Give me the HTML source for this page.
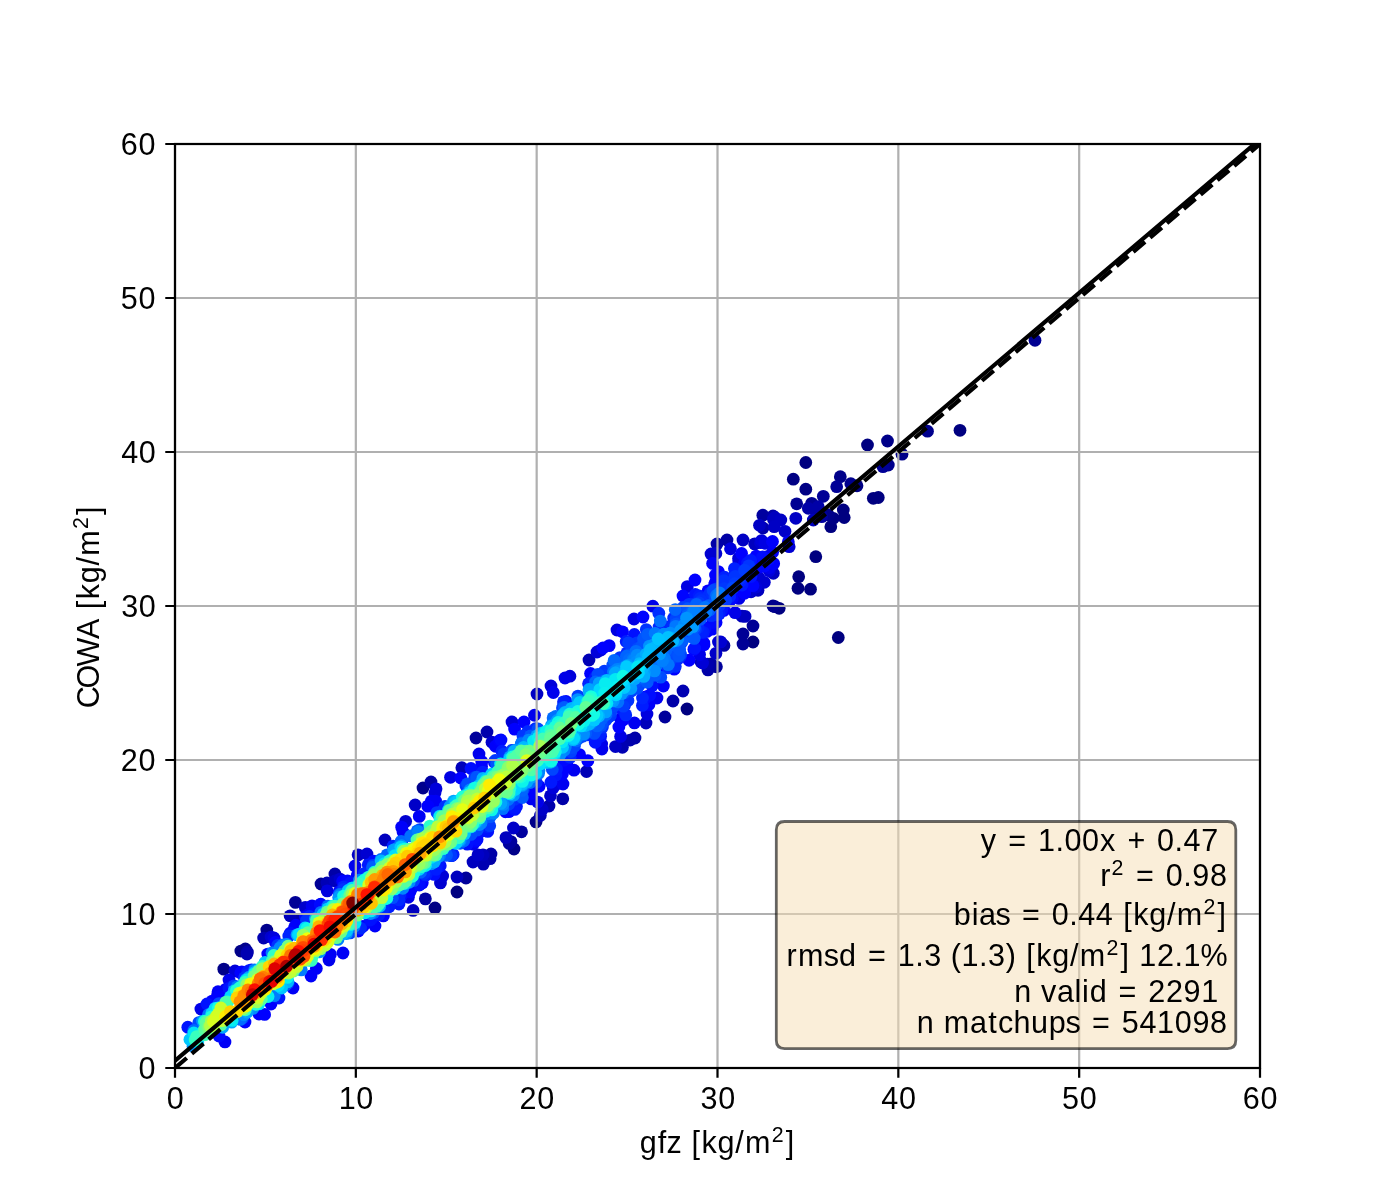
<!DOCTYPE html>
<html><head><meta charset="utf-8"><style>html,body{margin:0;padding:0;background:#fff;width:1400px;height:1200px;overflow:hidden}</style></head><body><svg width="1400" height="1200" viewBox="0 0 504 432" style="display:block">
<rect x="0" y="0" width="504" height="432" fill="#ffffff"/>
<g clip-path="url(#clipax)">
<circle cx="314.39" cy="179.39" r="2.3" fill="#000080"/><circle cx="316.19" cy="179.10" r="2.3" fill="#000080"/><circle cx="287.53" cy="207.61" r="2.3" fill="#000080"/><circle cx="293.69" cy="200.41" r="2.3" fill="#000080"/><circle cx="299.09" cy="189.61" r="2.3" fill="#000080"/><circle cx="303.91" cy="186.30" r="2.3" fill="#000080"/><circle cx="301.79" cy="229.50" r="2.3" fill="#000080"/><circle cx="345.60" cy="154.91" r="2.3" fill="#000080"/><circle cx="287.28" cy="211.79" r="2.3" fill="#000080"/><circle cx="291.78" cy="212.11" r="2.3" fill="#000080"/><circle cx="290.09" cy="166.50" r="2.3" fill="#000080"/><circle cx="312.30" cy="160.20" r="2.3" fill="#000080"/><circle cx="247.32" cy="255.24" r="2.3" fill="#000080"/><circle cx="303.59" cy="183.60" r="2.3" fill="#000080"/><circle cx="271.08" cy="231.12" r="2.3" fill="#000080"/><circle cx="280.51" cy="218.99" r="2.3" fill="#000080"/><circle cx="164.52" cy="321.12" r="2.3" fill="#000080"/><circle cx="299.99" cy="186.59" r="2.3" fill="#000084"/><circle cx="285.59" cy="172.51" r="2.3" fill="#000084"/><circle cx="290.09" cy="176.11" r="2.3" fill="#000084"/><circle cx="156.60" cy="326.88" r="2.3" fill="#000084"/><circle cx="279.00" cy="218.41" r="2.3" fill="#000084"/><circle cx="308.52" cy="174.89" r="2.3" fill="#000084"/><circle cx="302.51" cy="171.61" r="2.3" fill="#000089"/><circle cx="185.04" cy="305.64" r="2.3" fill="#000089"/><circle cx="86.71" cy="342.37" r="2.3" fill="#000089"/><circle cx="319.50" cy="158.76" r="2.3" fill="#000089"/><circle cx="192.97" cy="295.89" r="2.3" fill="#000089"/><circle cx="80.57" cy="348.89" r="2.3" fill="#000089"/><circle cx="298.19" cy="185.40" r="2.3" fill="#000089"/><circle cx="324.72" cy="163.51" r="2.3" fill="#000089"/><circle cx="319.79" cy="167.40" r="2.3" fill="#00008d"/><circle cx="88.34" cy="341.64" r="2.3" fill="#00008d"/><circle cx="278.28" cy="218.16" r="2.3" fill="#00008d"/><circle cx="333.90" cy="155.23" r="2.3" fill="#00008d"/><circle cx="96.05" cy="334.83" r="2.3" fill="#00008d"/><circle cx="152.28" cy="283.68" r="2.3" fill="#00008d"/><circle cx="306.29" cy="174.13" r="2.3" fill="#00008d"/><circle cx="372.60" cy="122.51" r="2.3" fill="#000092"/><circle cx="292.21" cy="181.19" r="2.3" fill="#000092"/><circle cx="286.81" cy="181.37" r="2.3" fill="#000092"/><circle cx="267.48" cy="231.84" r="2.3" fill="#000096"/><circle cx="317.88" cy="168.01" r="2.3" fill="#000096"/><circle cx="267.48" cy="228.24" r="2.3" fill="#000096"/><circle cx="106.34" cy="324.85" r="2.3" fill="#000096"/><circle cx="115.56" cy="318.24" r="2.3" fill="#000096"/><circle cx="301.21" cy="175.21" r="2.3" fill="#000096"/><circle cx="296.39" cy="178.67" r="2.3" fill="#000096"/><circle cx="271.08" cy="225.36" r="2.3" fill="#000096"/><circle cx="257.91" cy="240.04" r="2.3" fill="#00009b"/><circle cx="183.95" cy="302.96" r="2.3" fill="#00009b"/><circle cx="167.75" cy="316.08" r="2.3" fill="#00009b"/><circle cx="239.40" cy="258.12" r="2.3" fill="#00009b"/><circle cx="171.36" cy="265.68" r="2.3" fill="#00009b"/><circle cx="187.75" cy="299.44" r="2.3" fill="#00009f"/><circle cx="183.31" cy="303.62" r="2.3" fill="#00009f"/><circle cx="295.81" cy="186.01" r="2.3" fill="#00009f"/><circle cx="274.62" cy="185.46" r="2.3" fill="#00009f"/><circle cx="153.13" cy="323.59" r="2.3" fill="#0000a4"/><circle cx="260.63" cy="232.36" r="2.3" fill="#0000a4"/><circle cx="155.16" cy="281.52" r="2.3" fill="#0000a4"/><circle cx="293.40" cy="183.60" r="2.3" fill="#0000a4"/><circle cx="261.72" cy="194.40" r="2.3" fill="#0000a4"/><circle cx="255.96" cy="239.04" r="2.3" fill="#0000a4"/><circle cx="258.12" cy="195.84" r="2.3" fill="#0000a8"/><circle cx="254.87" cy="241.16" r="2.3" fill="#0000a8"/><circle cx="242.28" cy="252.36" r="2.3" fill="#0000a8"/><circle cx="89.05" cy="342.70" r="2.3" fill="#0000a8"/><circle cx="228.60" cy="265.68" r="2.3" fill="#0000a8"/><circle cx="176.76" cy="307.44" r="2.3" fill="#0000a8"/><circle cx="202.60" cy="287.58" r="2.3" fill="#0000a8"/><circle cx="278.28" cy="185.76" r="2.3" fill="#0000a8"/><circle cx="294.59" cy="182.41" r="2.3" fill="#0000a8"/><circle cx="120.57" cy="314.62" r="2.3" fill="#0000a8"/><circle cx="290.99" cy="182.99" r="2.3" fill="#0000a8"/><circle cx="176.44" cy="309.12" r="2.3" fill="#0000a8"/><circle cx="175.32" cy="263.52" r="2.3" fill="#0000ad"/><circle cx="197.64" cy="290.16" r="2.3" fill="#0000ad"/><circle cx="274.68" cy="190.08" r="2.3" fill="#0000ad"/><circle cx="106.92" cy="331.20" r="2.3" fill="#0000ad"/><circle cx="226.84" cy="266.43" r="2.3" fill="#0000ad"/><circle cx="254.75" cy="239.08" r="2.3" fill="#0000ad"/><circle cx="94.91" cy="337.69" r="2.3" fill="#0000b2"/><circle cx="88.92" cy="343.44" r="2.3" fill="#0000b2"/><circle cx="174.00" cy="311.08" r="2.3" fill="#0000b2"/><circle cx="245.88" cy="248.76" r="2.3" fill="#0000b2"/><circle cx="224.06" cy="269.04" r="2.3" fill="#0000b2"/><circle cx="194.52" cy="293.61" r="2.3" fill="#0000b6"/><circle cx="252.36" cy="238.32" r="2.3" fill="#0000b6"/><circle cx="117.72" cy="317.88" r="2.3" fill="#0000b6"/><circle cx="211.15" cy="277.75" r="2.3" fill="#0000b6"/><circle cx="212.04" cy="237.60" r="2.3" fill="#0000b6"/><circle cx="104.44" cy="329.68" r="2.3" fill="#0000bb"/><circle cx="267.12" cy="221.83" r="2.3" fill="#0000bb"/><circle cx="173.88" cy="307.80" r="2.3" fill="#0000bb"/><circle cx="232.56" cy="260.28" r="2.3" fill="#0000bb"/><circle cx="292.79" cy="187.20" r="2.3" fill="#0000bb"/><circle cx="166.26" cy="276.39" r="2.3" fill="#0000bb"/><circle cx="170.28" cy="310.32" r="2.3" fill="#0000bf"/><circle cx="120.60" cy="317.16" r="2.3" fill="#0000bf"/><circle cx="278.44" cy="186.91" r="2.3" fill="#0000bf"/><circle cx="278.39" cy="206.39" r="2.3" fill="#0000bf"/><circle cx="164.52" cy="315.72" r="2.3" fill="#0000bf"/><circle cx="279.00" cy="186.30" r="2.3" fill="#0000bf"/><circle cx="148.72" cy="327.77" r="2.3" fill="#0000bf"/><circle cx="268.23" cy="221.90" r="2.3" fill="#0000bf"/><circle cx="271.68" cy="195.80" r="2.3" fill="#0000bf"/><circle cx="138.60" cy="302.40" r="2.3" fill="#0000bf"/><circle cx="182.14" cy="301.55" r="2.3" fill="#0000bf"/><circle cx="272.89" cy="212.52" r="2.3" fill="#0000bf"/><circle cx="267.48" cy="194.40" r="2.3" fill="#0000c4"/><circle cx="193.32" cy="249.84" r="2.3" fill="#0000c4"/><circle cx="128.91" cy="307.75" r="2.3" fill="#0000c4"/><circle cx="286.49" cy="186.59" r="2.3" fill="#0000c4"/><circle cx="281.09" cy="187.20" r="2.3" fill="#0000c4"/><circle cx="273.42" cy="189.11" r="2.3" fill="#0000c4"/><circle cx="278.71" cy="189.61" r="2.3" fill="#0000c4"/><circle cx="221.57" cy="268.77" r="2.3" fill="#0000c4"/><circle cx="149.46" cy="289.79" r="2.3" fill="#0000c8"/><circle cx="195.18" cy="291.37" r="2.3" fill="#0000c8"/><circle cx="172.08" cy="307.75" r="2.3" fill="#0000c8"/><circle cx="184.84" cy="298.08" r="2.3" fill="#0000c8"/><circle cx="282.60" cy="191.27" r="2.3" fill="#0000c8"/><circle cx="257.74" cy="235.21" r="2.3" fill="#0000c8"/><circle cx="198.18" cy="286.48" r="2.3" fill="#0000c8"/><circle cx="109.89" cy="326.65" r="2.3" fill="#0000cd"/><circle cx="177.11" cy="267.19" r="2.3" fill="#0000cd"/><circle cx="270.38" cy="213.03" r="2.3" fill="#0000cd"/><circle cx="122.43" cy="316.48" r="2.3" fill="#0000cd"/><circle cx="258.64" cy="231.09" r="2.3" fill="#0000d1"/><circle cx="273.26" cy="208.06" r="2.3" fill="#0000d1"/><circle cx="97.59" cy="337.34" r="2.3" fill="#0000d1"/><circle cx="257.72" cy="199.24" r="2.3" fill="#0000d1"/><circle cx="255.96" cy="199.44" r="2.3" fill="#0000d1"/><circle cx="146.03" cy="295.69" r="2.3" fill="#0000d1"/><circle cx="132.12" cy="307.44" r="2.3" fill="#0000d1"/><circle cx="259.49" cy="231.10" r="2.3" fill="#0000d1"/><circle cx="158.57" cy="317.86" r="2.3" fill="#0000d1"/><circle cx="273.78" cy="195.38" r="2.3" fill="#0000d1"/><circle cx="284.11" cy="196.81" r="2.3" fill="#0000d1"/><circle cx="275.16" cy="209.63" r="2.3" fill="#0000d1"/><circle cx="184.32" cy="259.92" r="2.3" fill="#0000d6"/><circle cx="252.92" cy="238.68" r="2.3" fill="#0000d6"/><circle cx="266.87" cy="213.25" r="2.3" fill="#0000d6"/><circle cx="265.88" cy="201.02" r="2.3" fill="#0000d6"/><circle cx="159.36" cy="315.35" r="2.3" fill="#0000d6"/><circle cx="199.16" cy="283.60" r="2.3" fill="#0000da"/><circle cx="198.36" cy="246.96" r="2.3" fill="#0000da"/><circle cx="156.97" cy="283.99" r="2.3" fill="#0000da"/><circle cx="214.92" cy="234.72" r="2.3" fill="#0000da"/><circle cx="272.11" cy="211.31" r="2.3" fill="#0000da"/><circle cx="84.60" cy="349.56" r="2.3" fill="#0000da"/><circle cx="205.17" cy="243.43" r="2.3" fill="#0000da"/><circle cx="274.16" cy="194.59" r="2.3" fill="#0000da"/><circle cx="156.60" cy="285.48" r="2.3" fill="#0000da"/><circle cx="216.31" cy="234.03" r="2.3" fill="#0000da"/><circle cx="276.93" cy="205.47" r="2.3" fill="#0000da"/><circle cx="276.23" cy="200.38" r="2.3" fill="#0000df"/><circle cx="232.92" cy="257.04" r="2.3" fill="#0000df"/><circle cx="262.98" cy="197.55" r="2.3" fill="#0000df"/><circle cx="266.00" cy="202.31" r="2.3" fill="#0000df"/><circle cx="200.50" cy="282.14" r="2.3" fill="#0000df"/><circle cx="222.12" cy="226.80" r="2.3" fill="#0000df"/><circle cx="98.64" cy="337.68" r="2.3" fill="#0000df"/><circle cx="117.79" cy="320.72" r="2.3" fill="#0000df"/><circle cx="228.24" cy="222.84" r="2.3" fill="#0000e3"/><circle cx="162.19" cy="279.84" r="2.3" fill="#0000e3"/><circle cx="275.39" cy="195.58" r="2.3" fill="#0000e3"/><circle cx="223.41" cy="265.13" r="2.3" fill="#0000e3"/><circle cx="247.42" cy="211.19" r="2.3" fill="#0000e3"/><circle cx="235.03" cy="218.22" r="2.3" fill="#0000e8"/><circle cx="72.32" cy="363.26" r="2.3" fill="#0000e8"/><circle cx="193.55" cy="288.74" r="2.3" fill="#0000e8"/><circle cx="266.02" cy="215.43" r="2.3" fill="#0000e8"/><circle cx="264.63" cy="220.57" r="2.3" fill="#0000e8"/><circle cx="147.02" cy="323.02" r="2.3" fill="#0000e8"/><circle cx="203.40" cy="244.08" r="2.3" fill="#0000e8"/><circle cx="251.86" cy="235.65" r="2.3" fill="#0000e8"/><circle cx="216.58" cy="267.85" r="2.3" fill="#0000e8"/><circle cx="216.69" cy="269.67" r="2.3" fill="#0000ed"/><circle cx="170.30" cy="303.91" r="2.3" fill="#0000ed"/><circle cx="118.44" cy="345.60" r="2.3" fill="#0000ed"/><circle cx="257.47" cy="209.81" r="2.3" fill="#0000ed"/><circle cx="192.41" cy="257.49" r="2.3" fill="#0000ed"/><circle cx="78.25" cy="358.47" r="2.3" fill="#0000ed"/><circle cx="172.44" cy="271.44" r="2.3" fill="#0000ed"/><circle cx="276.89" cy="204.38" r="2.3" fill="#0000ed"/><circle cx="199.19" cy="249.30" r="2.3" fill="#0000ed"/><circle cx="127.80" cy="311.76" r="2.3" fill="#0000ed"/><circle cx="82.44" cy="352.80" r="2.3" fill="#0000ed"/><circle cx="236.52" cy="251.28" r="2.3" fill="#0000f1"/><circle cx="228.39" cy="260.27" r="2.3" fill="#0000f1"/><circle cx="283.79" cy="195.01" r="2.3" fill="#0000f1"/><circle cx="81.26" cy="356.17" r="2.3" fill="#0000f1"/><circle cx="112.34" cy="326.09" r="2.3" fill="#0000f1"/><circle cx="202.68" cy="282.24" r="2.3" fill="#0000f1"/><circle cx="191.23" cy="287.61" r="2.3" fill="#0000f1"/><circle cx="206.63" cy="277.28" r="2.3" fill="#0000f1"/><circle cx="155.34" cy="288.41" r="2.3" fill="#0000f6"/><circle cx="156.81" cy="288.40" r="2.3" fill="#0000f6"/><circle cx="105.48" cy="355.68" r="2.3" fill="#0000f6"/><circle cx="80.99" cy="375.09" r="2.3" fill="#0000f6"/><circle cx="148.17" cy="319.74" r="2.3" fill="#0000f6"/><circle cx="150.93" cy="293.90" r="2.3" fill="#0000f6"/><circle cx="278.14" cy="198.79" r="2.3" fill="#0000f6"/><circle cx="266.86" cy="208.27" r="2.3" fill="#0000f6"/><circle cx="123.48" cy="343.08" r="2.3" fill="#0000f6"/><circle cx="112.42" cy="329.16" r="2.3" fill="#0000f6"/><circle cx="78.48" cy="357.01" r="2.3" fill="#0000f6"/><circle cx="223.41" cy="258.87" r="2.3" fill="#0000f6"/><circle cx="105.99" cy="334.01" r="2.3" fill="#0000f6"/><circle cx="268.91" cy="211.26" r="2.3" fill="#0000f6"/><circle cx="118.94" cy="343.56" r="2.3" fill="#0000f6"/><circle cx="110.99" cy="329.30" r="2.3" fill="#0000f6"/><circle cx="173.44" cy="274.18" r="2.3" fill="#0000fa"/><circle cx="135.00" cy="333.36" r="2.3" fill="#0000fa"/><circle cx="144.61" cy="297.77" r="2.3" fill="#0000fa"/><circle cx="273.70" cy="204.05" r="2.3" fill="#0000fa"/><circle cx="256.53" cy="202.85" r="2.3" fill="#0000fa"/><circle cx="238.82" cy="246.98" r="2.3" fill="#0000fa"/><circle cx="233.63" cy="253.64" r="2.3" fill="#0000fa"/><circle cx="106.52" cy="333.06" r="2.3" fill="#0000fa"/><circle cx="278.53" cy="202.91" r="2.3" fill="#0000fa"/><circle cx="111.96" cy="351.36" r="2.3" fill="#0000fa"/><circle cx="115.49" cy="325.50" r="2.3" fill="#0000fa"/><circle cx="145.08" cy="299.52" r="2.3" fill="#0000fa"/><circle cx="93.24" cy="365.04" r="2.3" fill="#0000fa"/><circle cx="178.39" cy="268.65" r="2.3" fill="#0000fa"/><circle cx="278.10" cy="194.94" r="2.3" fill="#0000fa"/><circle cx="113.89" cy="348.65" r="2.3" fill="#0000fa"/><circle cx="219.30" cy="232.43" r="2.3" fill="#0000fa"/><circle cx="97.56" cy="361.44" r="2.3" fill="#0000ff"/><circle cx="211.61" cy="273.87" r="2.3" fill="#0000ff"/><circle cx="87.06" cy="349.91" r="2.3" fill="#0000ff"/><circle cx="242.72" cy="240.90" r="2.3" fill="#0000ff"/><circle cx="185.24" cy="262.48" r="2.3" fill="#0000ff"/><circle cx="138.01" cy="329.73" r="2.3" fill="#0000ff"/><circle cx="266.97" cy="199.25" r="2.3" fill="#0000ff"/><circle cx="259.86" cy="208.39" r="2.3" fill="#0000ff"/><circle cx="248.39" cy="216.05" r="2.3" fill="#0000ff"/><circle cx="253.66" cy="226.02" r="2.3" fill="#0000ff"/><circle cx="99.18" cy="339.25" r="2.3" fill="#0000ff"/><circle cx="250.20" cy="208.80" r="2.3" fill="#0000ff"/><circle cx="202.48" cy="278.65" r="2.3" fill="#0000ff"/><circle cx="173.36" cy="275.84" r="2.3" fill="#0000ff"/><circle cx="275.36" cy="201.32" r="2.3" fill="#0000ff"/><circle cx="179.87" cy="266.55" r="2.3" fill="#0000ff"/><circle cx="248.06" cy="237.69" r="2.3" fill="#0000ff"/><circle cx="266.54" cy="207.47" r="2.3" fill="#0000ff"/><circle cx="257.39" cy="223.90" r="2.3" fill="#0000ff"/><circle cx="142.75" cy="324.22" r="2.3" fill="#0000ff"/><circle cx="232.40" cy="250.86" r="2.3" fill="#0000ff"/><circle cx="222.79" cy="261.73" r="2.3" fill="#0000ff"/><circle cx="154.02" cy="290.21" r="2.3" fill="#0000ff"/><circle cx="137.75" cy="328.29" r="2.3" fill="#0000ff"/><circle cx="146.47" cy="320.08" r="2.3" fill="#0000ff"/><circle cx="95.26" cy="365.21" r="2.3" fill="#0000ff"/><circle cx="96.39" cy="343.46" r="2.3" fill="#0000ff"/><circle cx="147.59" cy="321.08" r="2.3" fill="#0000ff"/><circle cx="165.89" cy="280.11" r="2.3" fill="#0000ff"/><circle cx="130.69" cy="333.46" r="2.3" fill="#0000ff"/><circle cx="122.12" cy="320.96" r="2.3" fill="#0000ff"/><circle cx="256.41" cy="226.48" r="2.3" fill="#0000ff"/><circle cx="78.94" cy="358.77" r="2.3" fill="#0000ff"/><circle cx="253.46" cy="232.12" r="2.3" fill="#0000ff"/><circle cx="257.30" cy="210.36" r="2.3" fill="#0000ff"/><circle cx="268.18" cy="210.52" r="2.3" fill="#0000ff"/><circle cx="191.10" cy="285.66" r="2.3" fill="#0000ff"/><circle cx="257.14" cy="211.68" r="2.3" fill="#0000ff"/><circle cx="258.60" cy="205.76" r="2.3" fill="#0000ff"/><circle cx="128.62" cy="315.13" r="2.3" fill="#0000ff"/><circle cx="123.38" cy="317.24" r="2.3" fill="#0000ff"/><circle cx="271.77" cy="202.29" r="2.3" fill="#0000ff"/><circle cx="212.59" cy="242.46" r="2.3" fill="#0000ff"/><circle cx="272.24" cy="200.17" r="2.3" fill="#0000ff"/><circle cx="129.03" cy="335.18" r="2.3" fill="#0000ff"/><circle cx="224.31" cy="259.22" r="2.3" fill="#0000ff"/><circle cx="264.65" cy="212.66" r="2.3" fill="#0000ff"/><circle cx="188.64" cy="259.92" r="2.3" fill="#0000ff"/><circle cx="86.69" cy="350.23" r="2.3" fill="#0000ff"/><circle cx="260.60" cy="219.73" r="2.3" fill="#0000ff"/><circle cx="204.12" cy="275.53" r="2.3" fill="#0000ff"/><circle cx="257.80" cy="224.12" r="2.3" fill="#0000ff"/><circle cx="208.64" cy="271.63" r="2.3" fill="#0000ff"/><circle cx="254.52" cy="227.32" r="2.3" fill="#0000ff"/><circle cx="152.03" cy="317.83" r="2.3" fill="#0000ff"/><circle cx="253.38" cy="231.46" r="2.3" fill="#0000ff"/><circle cx="204.32" cy="271.19" r="2.3" fill="#0000ff"/><circle cx="256.65" cy="223.14" r="2.3" fill="#0000ff"/><circle cx="267.93" cy="202.97" r="2.3" fill="#0000ff"/><circle cx="170.38" cy="302.90" r="2.3" fill="#0000ff"/><circle cx="254.88" cy="212.69" r="2.3" fill="#0000ff"/><circle cx="268.05" cy="213.59" r="2.3" fill="#0000ff"/><circle cx="257.57" cy="207.00" r="2.3" fill="#0000ff"/><circle cx="243.79" cy="234.44" r="2.3" fill="#0000ff"/><circle cx="217.08" cy="233.28" r="2.3" fill="#0000ff"/><circle cx="238.67" cy="225.30" r="2.3" fill="#0000ff"/><circle cx="177.97" cy="274.37" r="2.3" fill="#0000ff"/><circle cx="265.24" cy="206.39" r="2.3" fill="#0000ff"/><circle cx="257.30" cy="223.97" r="2.3" fill="#0000ff"/><circle cx="268.74" cy="209.43" r="2.3" fill="#0000ff"/><circle cx="76.38" cy="360.39" r="2.3" fill="#0000ff"/><circle cx="245.91" cy="220.15" r="2.3" fill="#0000ff"/><circle cx="224.11" cy="227.45" r="2.3" fill="#0000ff"/><circle cx="194.08" cy="283.08" r="2.3" fill="#0000ff"/><circle cx="263.61" cy="215.47" r="2.3" fill="#0004ff"/><circle cx="125.13" cy="317.15" r="2.3" fill="#0004ff"/><circle cx="267.12" cy="206.81" r="2.3" fill="#0004ff"/><circle cx="271.06" cy="210.82" r="2.3" fill="#0004ff"/><circle cx="275.14" cy="203.73" r="2.3" fill="#0004ff"/><circle cx="262.19" cy="211.20" r="2.3" fill="#0004ff"/><circle cx="139.02" cy="326.79" r="2.3" fill="#0004ff"/><circle cx="249.80" cy="233.77" r="2.3" fill="#0004ff"/><circle cx="162.61" cy="308.05" r="2.3" fill="#0004ff"/><circle cx="88.20" cy="367.92" r="2.3" fill="#0004ff"/><circle cx="171.36" cy="302.78" r="2.3" fill="#0004ff"/><circle cx="183.17" cy="292.20" r="2.3" fill="#0004ff"/><circle cx="181.99" cy="292.23" r="2.3" fill="#0004ff"/><circle cx="231.48" cy="222.12" r="2.3" fill="#0004ff"/><circle cx="238.22" cy="240.58" r="2.3" fill="#0004ff"/><circle cx="245.88" cy="214.56" r="2.3" fill="#0004ff"/><circle cx="203.78" cy="252.52" r="2.3" fill="#0008ff"/><circle cx="144.46" cy="322.43" r="2.3" fill="#0008ff"/><circle cx="256.55" cy="224.08" r="2.3" fill="#0008ff"/><circle cx="262.68" cy="216.38" r="2.3" fill="#0008ff"/><circle cx="180.36" cy="266.40" r="2.3" fill="#0008ff"/><circle cx="78.84" cy="372.96" r="2.3" fill="#0008ff"/><circle cx="104.47" cy="335.97" r="2.3" fill="#0008ff"/><circle cx="109.97" cy="330.15" r="2.3" fill="#0008ff"/><circle cx="202.94" cy="273.70" r="2.3" fill="#0008ff"/><circle cx="115.29" cy="325.67" r="2.3" fill="#0008ff"/><circle cx="134.56" cy="309.98" r="2.3" fill="#0008ff"/><circle cx="242.89" cy="238.92" r="2.3" fill="#000cff"/><circle cx="169.55" cy="276.63" r="2.3" fill="#000cff"/><circle cx="253.83" cy="226.23" r="2.3" fill="#000cff"/><circle cx="150.98" cy="318.62" r="2.3" fill="#000cff"/><circle cx="183.52" cy="289.86" r="2.3" fill="#000cff"/><circle cx="171.76" cy="302.24" r="2.3" fill="#000cff"/><circle cx="258.61" cy="217.16" r="2.3" fill="#000cff"/><circle cx="274.55" cy="200.50" r="2.3" fill="#000cff"/><circle cx="233.89" cy="250.27" r="2.3" fill="#000cff"/><circle cx="232.31" cy="251.18" r="2.3" fill="#000cff"/><circle cx="264.45" cy="208.85" r="2.3" fill="#000cff"/><circle cx="276.78" cy="201.25" r="2.3" fill="#000cff"/><circle cx="156.30" cy="314.81" r="2.3" fill="#000cff"/><circle cx="249.87" cy="229.13" r="2.3" fill="#000cff"/><circle cx="122.48" cy="321.07" r="2.3" fill="#0010ff"/><circle cx="76.12" cy="362.33" r="2.3" fill="#0010ff"/><circle cx="82.42" cy="355.81" r="2.3" fill="#0010ff"/><circle cx="228.37" cy="228.41" r="2.3" fill="#0010ff"/><circle cx="154.03" cy="314.08" r="2.3" fill="#0010ff"/><circle cx="270.04" cy="206.42" r="2.3" fill="#0010ff"/><circle cx="133.81" cy="330.63" r="2.3" fill="#0010ff"/><circle cx="249.56" cy="221.09" r="2.3" fill="#0010ff"/><circle cx="216.23" cy="265.08" r="2.3" fill="#0010ff"/><circle cx="173.52" cy="299.18" r="2.3" fill="#0010ff"/><circle cx="158.50" cy="311.71" r="2.3" fill="#0010ff"/><circle cx="74.52" cy="361.44" r="2.3" fill="#0010ff"/><circle cx="269.77" cy="205.83" r="2.3" fill="#0010ff"/><circle cx="175.59" cy="299.33" r="2.3" fill="#0010ff"/><circle cx="133.25" cy="331.21" r="2.3" fill="#0010ff"/><circle cx="126.13" cy="317.85" r="2.3" fill="#0010ff"/><circle cx="248.48" cy="219.84" r="2.3" fill="#0010ff"/><circle cx="249.99" cy="227.91" r="2.3" fill="#0010ff"/><circle cx="168.21" cy="303.88" r="2.3" fill="#0010ff"/><circle cx="262.95" cy="209.37" r="2.3" fill="#0010ff"/><circle cx="211.89" cy="246.12" r="2.3" fill="#0010ff"/><circle cx="257.15" cy="214.06" r="2.3" fill="#0010ff"/><circle cx="270.30" cy="204.61" r="2.3" fill="#0010ff"/><circle cx="234.77" cy="246.83" r="2.3" fill="#0010ff"/><circle cx="224.79" cy="254.04" r="2.3" fill="#0014ff"/><circle cx="259.82" cy="219.56" r="2.3" fill="#0014ff"/><circle cx="250.06" cy="233.37" r="2.3" fill="#0014ff"/><circle cx="269.11" cy="202.65" r="2.3" fill="#0014ff"/><circle cx="268.38" cy="205.78" r="2.3" fill="#0014ff"/><circle cx="200.11" cy="279.00" r="2.3" fill="#0014ff"/><circle cx="185.34" cy="291.38" r="2.3" fill="#0014ff"/><circle cx="143.64" cy="325.44" r="2.3" fill="#0014ff"/><circle cx="264.34" cy="207.70" r="2.3" fill="#0014ff"/><circle cx="214.30" cy="267.21" r="2.3" fill="#0014ff"/><circle cx="100.44" cy="359.28" r="2.3" fill="#0014ff"/><circle cx="250.30" cy="213.99" r="2.3" fill="#0014ff"/><circle cx="67.61" cy="369.81" r="2.3" fill="#0014ff"/><circle cx="260.10" cy="218.55" r="2.3" fill="#0014ff"/><circle cx="270.37" cy="207.55" r="2.3" fill="#0014ff"/><circle cx="185.93" cy="290.30" r="2.3" fill="#0014ff"/><circle cx="214.27" cy="243.91" r="2.3" fill="#0018ff"/><circle cx="260.02" cy="213.98" r="2.3" fill="#0018ff"/><circle cx="223.48" cy="255.01" r="2.3" fill="#0018ff"/><circle cx="267.15" cy="210.60" r="2.3" fill="#0018ff"/><circle cx="248.62" cy="217.65" r="2.3" fill="#0018ff"/><circle cx="157.55" cy="311.06" r="2.3" fill="#0018ff"/><circle cx="90.51" cy="349.14" r="2.3" fill="#0018ff"/><circle cx="185.16" cy="290.49" r="2.3" fill="#0018ff"/><circle cx="270.24" cy="201.70" r="2.3" fill="#0018ff"/><circle cx="89.63" cy="349.43" r="2.3" fill="#0018ff"/><circle cx="198.34" cy="281.61" r="2.3" fill="#0018ff"/><circle cx="221.50" cy="240.58" r="2.3" fill="#0018ff"/><circle cx="136.41" cy="329.26" r="2.3" fill="#0018ff"/><circle cx="111.17" cy="330.24" r="2.3" fill="#0018ff"/><circle cx="264.58" cy="206.60" r="2.3" fill="#0018ff"/><circle cx="132.56" cy="311.32" r="2.3" fill="#0018ff"/><circle cx="89.13" cy="349.93" r="2.3" fill="#0018ff"/><circle cx="200.35" cy="276.85" r="2.3" fill="#0018ff"/><circle cx="248.17" cy="217.95" r="2.3" fill="#0018ff"/><circle cx="243.43" cy="236.73" r="2.3" fill="#001cff"/><circle cx="211.76" cy="264.58" r="2.3" fill="#001cff"/><circle cx="269.74" cy="203.53" r="2.3" fill="#001cff"/><circle cx="173.74" cy="277.93" r="2.3" fill="#001cff"/><circle cx="236.92" cy="239.01" r="2.3" fill="#001cff"/><circle cx="140.08" cy="326.44" r="2.3" fill="#001cff"/><circle cx="231.26" cy="253.95" r="2.3" fill="#001cff"/><circle cx="156.99" cy="312.97" r="2.3" fill="#001cff"/><circle cx="251.67" cy="214.53" r="2.3" fill="#001cff"/><circle cx="203.35" cy="252.93" r="2.3" fill="#001cff"/><circle cx="265.02" cy="206.27" r="2.3" fill="#001cff"/><circle cx="225.42" cy="230.93" r="2.3" fill="#001cff"/><circle cx="253.22" cy="227.65" r="2.3" fill="#001cff"/><circle cx="153.40" cy="315.00" r="2.3" fill="#001cff"/><circle cx="180.73" cy="270.45" r="2.3" fill="#001cff"/><circle cx="175.69" cy="297.68" r="2.3" fill="#001cff"/><circle cx="265.43" cy="206.05" r="2.3" fill="#001cff"/><circle cx="258.91" cy="220.99" r="2.3" fill="#001cff"/><circle cx="143.92" cy="322.20" r="2.3" fill="#0020ff"/><circle cx="202.86" cy="252.66" r="2.3" fill="#0020ff"/><circle cx="111.38" cy="329.94" r="2.3" fill="#0020ff"/><circle cx="228.52" cy="246.41" r="2.3" fill="#0020ff"/><circle cx="124.44" cy="319.73" r="2.3" fill="#0020ff"/><circle cx="153.00" cy="314.99" r="2.3" fill="#0020ff"/><circle cx="216.05" cy="264.18" r="2.3" fill="#0020ff"/><circle cx="266.61" cy="209.29" r="2.3" fill="#0020ff"/><circle cx="123.71" cy="319.27" r="2.3" fill="#0020ff"/><circle cx="264.40" cy="204.70" r="2.3" fill="#0020ff"/><circle cx="260.67" cy="213.40" r="2.3" fill="#0020ff"/><circle cx="141.53" cy="304.57" r="2.3" fill="#0020ff"/><circle cx="260.85" cy="207.79" r="2.3" fill="#0020ff"/><circle cx="262.70" cy="214.70" r="2.3" fill="#0020ff"/><circle cx="218.13" cy="258.72" r="2.3" fill="#0020ff"/><circle cx="163.14" cy="307.63" r="2.3" fill="#0020ff"/><circle cx="252.50" cy="227.60" r="2.3" fill="#0020ff"/><circle cx="235.34" cy="228.57" r="2.3" fill="#0020ff"/><circle cx="214.32" cy="264.11" r="2.3" fill="#0020ff"/><circle cx="231.30" cy="251.31" r="2.3" fill="#0024ff"/><circle cx="205.23" cy="272.65" r="2.3" fill="#0024ff"/><circle cx="225.71" cy="235.03" r="2.3" fill="#0024ff"/><circle cx="235.35" cy="234.06" r="2.3" fill="#0024ff"/><circle cx="244.93" cy="236.30" r="2.3" fill="#0024ff"/><circle cx="89.14" cy="350.94" r="2.3" fill="#0024ff"/><circle cx="185.72" cy="287.17" r="2.3" fill="#0024ff"/><circle cx="103.96" cy="336.94" r="2.3" fill="#0024ff"/><circle cx="254.25" cy="217.54" r="2.3" fill="#0024ff"/><circle cx="216.91" cy="243.20" r="2.3" fill="#0024ff"/><circle cx="131.10" cy="314.47" r="2.3" fill="#0024ff"/><circle cx="212.17" cy="246.14" r="2.3" fill="#0024ff"/><circle cx="193.04" cy="281.63" r="2.3" fill="#0024ff"/><circle cx="250.44" cy="217.59" r="2.3" fill="#0024ff"/><circle cx="244.48" cy="222.51" r="2.3" fill="#0024ff"/><circle cx="255.66" cy="213.70" r="2.3" fill="#0024ff"/><circle cx="252.41" cy="215.65" r="2.3" fill="#0024ff"/><circle cx="251.31" cy="225.94" r="2.3" fill="#0028ff"/><circle cx="256.61" cy="219.60" r="2.3" fill="#0028ff"/><circle cx="190.02" cy="263.32" r="2.3" fill="#0028ff"/><circle cx="225.28" cy="257.36" r="2.3" fill="#0028ff"/><circle cx="237.26" cy="225.69" r="2.3" fill="#0028ff"/><circle cx="252.04" cy="215.43" r="2.3" fill="#0028ff"/><circle cx="138.00" cy="327.20" r="2.3" fill="#0028ff"/><circle cx="240.95" cy="225.59" r="2.3" fill="#0028ff"/><circle cx="249.09" cy="218.91" r="2.3" fill="#0028ff"/><circle cx="242.53" cy="222.53" r="2.3" fill="#0028ff"/><circle cx="192.75" cy="262.33" r="2.3" fill="#0028ff"/><circle cx="255.79" cy="213.36" r="2.3" fill="#0028ff"/><circle cx="143.67" cy="323.96" r="2.3" fill="#0028ff"/><circle cx="129.79" cy="334.12" r="2.3" fill="#0028ff"/><circle cx="234.55" cy="243.38" r="2.3" fill="#0028ff"/><circle cx="243.10" cy="239.92" r="2.3" fill="#002cff"/><circle cx="255.31" cy="214.24" r="2.3" fill="#002cff"/><circle cx="256.07" cy="221.63" r="2.3" fill="#002cff"/><circle cx="247.91" cy="217.85" r="2.3" fill="#002cff"/><circle cx="258.17" cy="221.23" r="2.3" fill="#002cff"/><circle cx="242.08" cy="225.64" r="2.3" fill="#002cff"/><circle cx="237.18" cy="220.74" r="2.3" fill="#002cff"/><circle cx="244.02" cy="237.23" r="2.3" fill="#002cff"/><circle cx="221.20" cy="238.54" r="2.3" fill="#002cff"/><circle cx="264.58" cy="210.16" r="2.3" fill="#0030ff"/><circle cx="266.26" cy="208.21" r="2.3" fill="#0030ff"/><circle cx="110.34" cy="331.32" r="2.3" fill="#0030ff"/><circle cx="88.02" cy="351.97" r="2.3" fill="#0030ff"/><circle cx="212.34" cy="262.45" r="2.3" fill="#0030ff"/><circle cx="170.97" cy="279.82" r="2.3" fill="#0030ff"/><circle cx="185.28" cy="287.75" r="2.3" fill="#0030ff"/><circle cx="250.05" cy="217.36" r="2.3" fill="#0030ff"/><circle cx="260.55" cy="208.99" r="2.3" fill="#0030ff"/><circle cx="267.96" cy="206.71" r="2.3" fill="#0030ff"/><circle cx="252.50" cy="216.25" r="2.3" fill="#0030ff"/><circle cx="258.97" cy="217.91" r="2.3" fill="#0030ff"/><circle cx="248.80" cy="229.14" r="2.3" fill="#0030ff"/><circle cx="259.95" cy="210.53" r="2.3" fill="#0030ff"/><circle cx="160.19" cy="290.32" r="2.3" fill="#0030ff"/><circle cx="152.62" cy="314.47" r="2.3" fill="#0030ff"/><circle cx="256.38" cy="213.81" r="2.3" fill="#0030ff"/><circle cx="216.88" cy="261.76" r="2.3" fill="#0030ff"/><circle cx="244.14" cy="223.35" r="2.3" fill="#0030ff"/><circle cx="245.35" cy="231.29" r="2.3" fill="#0030ff"/><circle cx="99.99" cy="340.31" r="2.3" fill="#0030ff"/><circle cx="123.68" cy="320.20" r="2.3" fill="#0030ff"/><circle cx="264.70" cy="207.47" r="2.3" fill="#0034ff"/><circle cx="240.51" cy="240.46" r="2.3" fill="#0034ff"/><circle cx="244.37" cy="234.23" r="2.3" fill="#0034ff"/><circle cx="226.07" cy="252.20" r="2.3" fill="#0034ff"/><circle cx="232.66" cy="226.65" r="2.3" fill="#0034ff"/><circle cx="157.29" cy="292.51" r="2.3" fill="#0034ff"/><circle cx="223.23" cy="236.73" r="2.3" fill="#0034ff"/><circle cx="269.54" cy="203.69" r="2.3" fill="#0034ff"/><circle cx="248.11" cy="217.55" r="2.3" fill="#0034ff"/><circle cx="257.56" cy="212.13" r="2.3" fill="#0034ff"/><circle cx="246.70" cy="220.34" r="2.3" fill="#0034ff"/><circle cx="144.63" cy="303.41" r="2.3" fill="#0034ff"/><circle cx="167.74" cy="282.98" r="2.3" fill="#0034ff"/><circle cx="264.33" cy="210.54" r="2.3" fill="#0034ff"/><circle cx="258.44" cy="213.18" r="2.3" fill="#0034ff"/><circle cx="208.28" cy="252.22" r="2.3" fill="#0034ff"/><circle cx="181.37" cy="271.39" r="2.3" fill="#0034ff"/><circle cx="217.55" cy="241.64" r="2.3" fill="#0038ff"/><circle cx="178.30" cy="273.77" r="2.3" fill="#0038ff"/><circle cx="176.30" cy="297.25" r="2.3" fill="#0038ff"/><circle cx="219.75" cy="257.69" r="2.3" fill="#0038ff"/><circle cx="261.22" cy="216.16" r="2.3" fill="#0038ff"/><circle cx="251.79" cy="220.25" r="2.3" fill="#0038ff"/><circle cx="241.02" cy="233.16" r="2.3" fill="#0038ff"/><circle cx="260.67" cy="211.91" r="2.3" fill="#0038ff"/><circle cx="252.12" cy="217.91" r="2.3" fill="#0038ff"/><circle cx="162.34" cy="308.03" r="2.3" fill="#0038ff"/><circle cx="188.24" cy="264.89" r="2.3" fill="#0038ff"/><circle cx="240.54" cy="229.02" r="2.3" fill="#0038ff"/><circle cx="248.63" cy="224.20" r="2.3" fill="#0038ff"/><circle cx="246.99" cy="227.15" r="2.3" fill="#0038ff"/><circle cx="229.33" cy="231.44" r="2.3" fill="#0038ff"/><circle cx="218.96" cy="258.16" r="2.3" fill="#0038ff"/><circle cx="240.69" cy="238.29" r="2.3" fill="#003cff"/><circle cx="226.24" cy="231.43" r="2.3" fill="#003cff"/><circle cx="268.04" cy="205.29" r="2.3" fill="#003cff"/><circle cx="248.21" cy="220.33" r="2.3" fill="#003cff"/><circle cx="222.64" cy="252.19" r="2.3" fill="#003cff"/><circle cx="218.59" cy="257.87" r="2.3" fill="#003cff"/><circle cx="84.24" cy="354.90" r="2.3" fill="#003cff"/><circle cx="250.30" cy="226.33" r="2.3" fill="#003cff"/><circle cx="230.02" cy="246.76" r="2.3" fill="#003cff"/><circle cx="187.68" cy="268.02" r="2.3" fill="#003cff"/><circle cx="251.66" cy="217.06" r="2.3" fill="#003cff"/><circle cx="151.16" cy="298.63" r="2.3" fill="#003cff"/><circle cx="218.06" cy="259.25" r="2.3" fill="#003cff"/><circle cx="208.06" cy="250.61" r="2.3" fill="#003cff"/><circle cx="175.17" cy="295.15" r="2.3" fill="#003cff"/><circle cx="245.91" cy="218.68" r="2.3" fill="#003cff"/><circle cx="264.53" cy="210.15" r="2.3" fill="#003cff"/><circle cx="103.75" cy="353.86" r="2.3" fill="#003cff"/><circle cx="250.28" cy="226.58" r="2.3" fill="#003cff"/><circle cx="224.39" cy="254.22" r="2.3" fill="#003cff"/><circle cx="217.67" cy="242.95" r="2.3" fill="#003cff"/><circle cx="259.93" cy="214.20" r="2.3" fill="#003cff"/><circle cx="183.12" cy="289.52" r="2.3" fill="#003cff"/><circle cx="228.88" cy="247.52" r="2.3" fill="#0040ff"/><circle cx="219.92" cy="256.17" r="2.3" fill="#0040ff"/><circle cx="227.28" cy="248.73" r="2.3" fill="#0040ff"/><circle cx="188.36" cy="284.43" r="2.3" fill="#0040ff"/><circle cx="134.35" cy="311.54" r="2.3" fill="#0040ff"/><circle cx="202.48" cy="254.84" r="2.3" fill="#0040ff"/><circle cx="259.20" cy="215.99" r="2.3" fill="#0040ff"/><circle cx="244.50" cy="234.46" r="2.3" fill="#0040ff"/><circle cx="233.23" cy="243.26" r="2.3" fill="#0040ff"/><circle cx="255.07" cy="218.09" r="2.3" fill="#0040ff"/><circle cx="205.55" cy="270.54" r="2.3" fill="#0040ff"/><circle cx="184.77" cy="270.21" r="2.3" fill="#0040ff"/><circle cx="246.05" cy="223.85" r="2.3" fill="#0040ff"/><circle cx="148.90" cy="317.04" r="2.3" fill="#0040ff"/><circle cx="226.10" cy="235.74" r="2.3" fill="#0040ff"/><circle cx="235.28" cy="241.40" r="2.3" fill="#0044ff"/><circle cx="87.24" cy="366.53" r="2.3" fill="#0044ff"/><circle cx="208.45" cy="265.67" r="2.3" fill="#0044ff"/><circle cx="243.47" cy="226.14" r="2.3" fill="#0044ff"/><circle cx="245.01" cy="235.50" r="2.3" fill="#0044ff"/><circle cx="209.80" cy="265.01" r="2.3" fill="#0044ff"/><circle cx="198.84" cy="277.00" r="2.3" fill="#0044ff"/><circle cx="257.41" cy="214.95" r="2.3" fill="#0044ff"/><circle cx="253.72" cy="219.61" r="2.3" fill="#0044ff"/><circle cx="232.76" cy="236.34" r="2.3" fill="#0044ff"/><circle cx="243.33" cy="222.73" r="2.3" fill="#0044ff"/><circle cx="184.28" cy="270.17" r="2.3" fill="#0044ff"/><circle cx="230.07" cy="233.57" r="2.3" fill="#0044ff"/><circle cx="126.04" cy="335.87" r="2.3" fill="#0044ff"/><circle cx="231.27" cy="232.19" r="2.3" fill="#0044ff"/><circle cx="221.00" cy="254.07" r="2.3" fill="#0044ff"/><circle cx="227.26" cy="236.01" r="2.3" fill="#0048ff"/><circle cx="204.55" cy="269.37" r="2.3" fill="#0048ff"/><circle cx="250.58" cy="220.90" r="2.3" fill="#0048ff"/><circle cx="71.57" cy="368.14" r="2.3" fill="#0048ff"/><circle cx="229.54" cy="233.52" r="2.3" fill="#0048ff"/><circle cx="263.79" cy="211.72" r="2.3" fill="#0048ff"/><circle cx="256.75" cy="212.58" r="2.3" fill="#0048ff"/><circle cx="249.90" cy="218.88" r="2.3" fill="#0048ff"/><circle cx="229.29" cy="247.85" r="2.3" fill="#0048ff"/><circle cx="228.49" cy="241.93" r="2.3" fill="#0048ff"/><circle cx="215.25" cy="242.74" r="2.3" fill="#0048ff"/><circle cx="214.81" cy="262.58" r="2.3" fill="#0048ff"/><circle cx="206.77" cy="268.65" r="2.3" fill="#0048ff"/><circle cx="235.94" cy="232.73" r="2.3" fill="#0048ff"/><circle cx="171.83" cy="298.83" r="2.3" fill="#0048ff"/><circle cx="237.88" cy="230.18" r="2.3" fill="#0048ff"/><circle cx="230.92" cy="244.08" r="2.3" fill="#0048ff"/><circle cx="78.82" cy="361.29" r="2.3" fill="#0048ff"/><circle cx="244.56" cy="224.08" r="2.3" fill="#0048ff"/><circle cx="235.75" cy="229.63" r="2.3" fill="#0048ff"/><circle cx="243.05" cy="236.30" r="2.3" fill="#0048ff"/><circle cx="205.95" cy="269.18" r="2.3" fill="#0048ff"/><circle cx="226.25" cy="235.94" r="2.3" fill="#004cff"/><circle cx="193.68" cy="262.44" r="2.3" fill="#004cff"/><circle cx="241.92" cy="235.54" r="2.3" fill="#004cff"/><circle cx="213.93" cy="264.04" r="2.3" fill="#004cff"/><circle cx="222.56" cy="250.45" r="2.3" fill="#004cff"/><circle cx="220.61" cy="239.45" r="2.3" fill="#004cff"/><circle cx="168.28" cy="282.19" r="2.3" fill="#004cff"/><circle cx="240.82" cy="238.78" r="2.3" fill="#004cff"/><circle cx="141.30" cy="323.16" r="2.3" fill="#004cff"/><circle cx="169.55" cy="300.38" r="2.3" fill="#004cff"/><circle cx="237.87" cy="243.79" r="2.3" fill="#004cff"/><circle cx="236.15" cy="230.82" r="2.3" fill="#004cff"/><circle cx="187.89" cy="267.38" r="2.3" fill="#004cff"/><circle cx="216.58" cy="260.95" r="2.3" fill="#004cff"/><circle cx="221.70" cy="238.76" r="2.3" fill="#004cff"/><circle cx="251.28" cy="221.92" r="2.3" fill="#004cff"/><circle cx="236.09" cy="229.35" r="2.3" fill="#0050ff"/><circle cx="241.06" cy="229.27" r="2.3" fill="#0050ff"/><circle cx="241.68" cy="233.89" r="2.3" fill="#0050ff"/><circle cx="257.80" cy="217.39" r="2.3" fill="#0050ff"/><circle cx="165.65" cy="303.59" r="2.3" fill="#0050ff"/><circle cx="258.71" cy="213.78" r="2.3" fill="#0050ff"/><circle cx="217.72" cy="257.32" r="2.3" fill="#0050ff"/><circle cx="228.93" cy="245.42" r="2.3" fill="#0050ff"/><circle cx="231.03" cy="232.70" r="2.3" fill="#0050ff"/><circle cx="236.60" cy="238.41" r="2.3" fill="#0050ff"/><circle cx="178.78" cy="275.43" r="2.3" fill="#0054ff"/><circle cx="247.37" cy="224.57" r="2.3" fill="#0054ff"/><circle cx="241.80" cy="227.80" r="2.3" fill="#0054ff"/><circle cx="231.86" cy="233.59" r="2.3" fill="#0054ff"/><circle cx="215.09" cy="259.82" r="2.3" fill="#0054ff"/><circle cx="226.45" cy="236.37" r="2.3" fill="#0054ff"/><circle cx="236.85" cy="231.33" r="2.3" fill="#0054ff"/><circle cx="252.10" cy="222.96" r="2.3" fill="#0054ff"/><circle cx="212.58" cy="248.66" r="2.3" fill="#0054ff"/><circle cx="171.57" cy="279.79" r="2.3" fill="#0054ff"/><circle cx="253.08" cy="219.02" r="2.3" fill="#0054ff"/><circle cx="247.96" cy="225.00" r="2.3" fill="#0054ff"/><circle cx="224.65" cy="249.43" r="2.3" fill="#0054ff"/><circle cx="234.85" cy="230.77" r="2.3" fill="#0054ff"/><circle cx="160.77" cy="307.90" r="2.3" fill="#0054ff"/><circle cx="242.21" cy="229.20" r="2.3" fill="#0054ff"/><circle cx="244.34" cy="236.18" r="2.3" fill="#0054ff"/><circle cx="208.90" cy="264.13" r="2.3" fill="#0054ff"/><circle cx="252.29" cy="221.03" r="2.3" fill="#0054ff"/><circle cx="102.74" cy="354.67" r="2.3" fill="#0054ff"/><circle cx="231.66" cy="229.84" r="2.3" fill="#0054ff"/><circle cx="243.41" cy="224.67" r="2.3" fill="#0054ff"/><circle cx="239.30" cy="228.60" r="2.3" fill="#0054ff"/><circle cx="247.60" cy="219.14" r="2.3" fill="#0054ff"/><circle cx="232.11" cy="244.40" r="2.3" fill="#0058ff"/><circle cx="235.83" cy="243.07" r="2.3" fill="#0058ff"/><circle cx="247.93" cy="220.75" r="2.3" fill="#0058ff"/><circle cx="244.48" cy="233.55" r="2.3" fill="#0058ff"/><circle cx="159.68" cy="307.73" r="2.3" fill="#0058ff"/><circle cx="242.19" cy="231.74" r="2.3" fill="#0058ff"/><circle cx="244.65" cy="233.85" r="2.3" fill="#0058ff"/><circle cx="134.53" cy="328.59" r="2.3" fill="#0058ff"/><circle cx="187.31" cy="284.71" r="2.3" fill="#0058ff"/><circle cx="191.00" cy="264.90" r="2.3" fill="#0058ff"/><circle cx="160.38" cy="306.99" r="2.3" fill="#0058ff"/><circle cx="199.37" cy="259.44" r="2.3" fill="#0058ff"/><circle cx="176.46" cy="294.02" r="2.3" fill="#0058ff"/><circle cx="232.99" cy="245.59" r="2.3" fill="#0058ff"/><circle cx="101.32" cy="340.56" r="2.3" fill="#0058ff"/><circle cx="248.35" cy="222.96" r="2.3" fill="#0058ff"/><circle cx="233.75" cy="234.67" r="2.3" fill="#0058ff"/><circle cx="167.00" cy="302.66" r="2.3" fill="#0058ff"/><circle cx="249.92" cy="229.81" r="2.3" fill="#0058ff"/><circle cx="245.72" cy="230.60" r="2.3" fill="#005cff"/><circle cx="216.73" cy="258.72" r="2.3" fill="#005cff"/><circle cx="188.05" cy="287.11" r="2.3" fill="#005cff"/><circle cx="134.09" cy="312.29" r="2.3" fill="#005cff"/><circle cx="210.86" cy="263.94" r="2.3" fill="#005cff"/><circle cx="246.74" cy="224.89" r="2.3" fill="#005cff"/><circle cx="255.46" cy="219.55" r="2.3" fill="#005cff"/><circle cx="233.15" cy="228.38" r="2.3" fill="#005cff"/><circle cx="235.12" cy="236.11" r="2.3" fill="#005cff"/><circle cx="218.26" cy="245.55" r="2.3" fill="#005cff"/><circle cx="203.17" cy="254.69" r="2.3" fill="#005cff"/><circle cx="255.11" cy="218.05" r="2.3" fill="#005cff"/><circle cx="250.61" cy="218.76" r="2.3" fill="#005cff"/><circle cx="150.22" cy="299.09" r="2.3" fill="#0060ff"/><circle cx="230.07" cy="236.19" r="2.3" fill="#0060ff"/><circle cx="215.55" cy="260.80" r="2.3" fill="#0060ff"/><circle cx="250.72" cy="217.58" r="2.3" fill="#0060ff"/><circle cx="247.39" cy="221.66" r="2.3" fill="#0060ff"/><circle cx="188.02" cy="283.81" r="2.3" fill="#0060ff"/><circle cx="214.89" cy="261.34" r="2.3" fill="#0060ff"/><circle cx="228.32" cy="236.36" r="2.3" fill="#0060ff"/><circle cx="139.35" cy="307.75" r="2.3" fill="#0060ff"/><circle cx="240.95" cy="232.33" r="2.3" fill="#0060ff"/><circle cx="133.80" cy="327.96" r="2.3" fill="#0060ff"/><circle cx="239.70" cy="234.09" r="2.3" fill="#0060ff"/><circle cx="151.41" cy="314.00" r="2.3" fill="#0060ff"/><circle cx="249.96" cy="225.92" r="2.3" fill="#0060ff"/><circle cx="252.53" cy="221.19" r="2.3" fill="#0060ff"/><circle cx="221.56" cy="240.91" r="2.3" fill="#0060ff"/><circle cx="214.40" cy="245.52" r="2.3" fill="#0064ff"/><circle cx="225.52" cy="236.25" r="2.3" fill="#0064ff"/><circle cx="233.18" cy="242.01" r="2.3" fill="#0064ff"/><circle cx="122.14" cy="322.02" r="2.3" fill="#0064ff"/><circle cx="214.51" cy="247.95" r="2.3" fill="#0064ff"/><circle cx="204.75" cy="255.40" r="2.3" fill="#0064ff"/><circle cx="166.71" cy="302.72" r="2.3" fill="#0064ff"/><circle cx="207.42" cy="266.71" r="2.3" fill="#0064ff"/><circle cx="249.08" cy="220.28" r="2.3" fill="#0064ff"/><circle cx="231.06" cy="243.91" r="2.3" fill="#0064ff"/><circle cx="229.73" cy="235.14" r="2.3" fill="#0064ff"/><circle cx="190.09" cy="267.36" r="2.3" fill="#0064ff"/><circle cx="243.76" cy="226.46" r="2.3" fill="#0064ff"/><circle cx="243.09" cy="219.43" r="2.3" fill="#0064ff"/><circle cx="215.47" cy="257.05" r="2.3" fill="#0064ff"/><circle cx="187.89" cy="284.57" r="2.3" fill="#0064ff"/><circle cx="223.07" cy="238.95" r="2.3" fill="#0064ff"/><circle cx="137.14" cy="309.39" r="2.3" fill="#0068ff"/><circle cx="217.35" cy="245.24" r="2.3" fill="#0068ff"/><circle cx="235.40" cy="239.63" r="2.3" fill="#0068ff"/><circle cx="218.20" cy="257.20" r="2.3" fill="#0068ff"/><circle cx="118.02" cy="326.20" r="2.3" fill="#0068ff"/><circle cx="212.55" cy="250.94" r="2.3" fill="#0068ff"/><circle cx="227.39" cy="238.48" r="2.3" fill="#0068ff"/><circle cx="144.42" cy="302.88" r="2.3" fill="#0068ff"/><circle cx="69.76" cy="370.96" r="2.3" fill="#0068ff"/><circle cx="221.12" cy="237.73" r="2.3" fill="#0068ff"/><circle cx="228.32" cy="240.46" r="2.3" fill="#006cff"/><circle cx="226.36" cy="238.51" r="2.3" fill="#006cff"/><circle cx="199.12" cy="258.44" r="2.3" fill="#006cff"/><circle cx="222.99" cy="241.40" r="2.3" fill="#006cff"/><circle cx="86.56" cy="366.98" r="2.3" fill="#006cff"/><circle cx="190.85" cy="281.71" r="2.3" fill="#006cff"/><circle cx="226.54" cy="237.39" r="2.3" fill="#006cff"/><circle cx="115.52" cy="328.42" r="2.3" fill="#006cff"/><circle cx="121.95" cy="323.14" r="2.3" fill="#006cff"/><circle cx="248.95" cy="223.11" r="2.3" fill="#006cff"/><circle cx="257.96" cy="214.30" r="2.3" fill="#006cff"/><circle cx="228.93" cy="234.48" r="2.3" fill="#006cff"/><circle cx="236.27" cy="239.66" r="2.3" fill="#0070ff"/><circle cx="222.45" cy="252.68" r="2.3" fill="#0070ff"/><circle cx="75.03" cy="365.29" r="2.3" fill="#0070ff"/><circle cx="237.71" cy="223.58" r="2.3" fill="#0070ff"/><circle cx="243.43" cy="230.04" r="2.3" fill="#0070ff"/><circle cx="228.65" cy="236.24" r="2.3" fill="#0070ff"/><circle cx="253.35" cy="220.22" r="2.3" fill="#0070ff"/><circle cx="200.01" cy="257.93" r="2.3" fill="#0070ff"/><circle cx="188.10" cy="282.89" r="2.3" fill="#0070ff"/><circle cx="181.02" cy="291.13" r="2.3" fill="#0070ff"/><circle cx="209.99" cy="263.36" r="2.3" fill="#0070ff"/><circle cx="238.40" cy="234.62" r="2.3" fill="#0070ff"/><circle cx="147.85" cy="300.95" r="2.3" fill="#0070ff"/><circle cx="182.96" cy="287.79" r="2.3" fill="#0070ff"/><circle cx="218.16" cy="253.67" r="2.3" fill="#0070ff"/><circle cx="253.81" cy="218.68" r="2.3" fill="#0074ff"/><circle cx="243.19" cy="227.78" r="2.3" fill="#0074ff"/><circle cx="240.54" cy="239.29" r="2.3" fill="#0074ff"/><circle cx="228.83" cy="239.20" r="2.3" fill="#0074ff"/><circle cx="101.86" cy="340.18" r="2.3" fill="#0074ff"/><circle cx="207.95" cy="265.21" r="2.3" fill="#0074ff"/><circle cx="187.64" cy="267.73" r="2.3" fill="#0074ff"/><circle cx="218.89" cy="248.80" r="2.3" fill="#0078ff"/><circle cx="244.27" cy="226.18" r="2.3" fill="#0078ff"/><circle cx="175.69" cy="292.96" r="2.3" fill="#0078ff"/><circle cx="220.86" cy="241.89" r="2.3" fill="#0078ff"/><circle cx="193.87" cy="278.44" r="2.3" fill="#0078ff"/><circle cx="158.23" cy="308.16" r="2.3" fill="#0078ff"/><circle cx="254.23" cy="220.34" r="2.3" fill="#0078ff"/><circle cx="85.40" cy="355.27" r="2.3" fill="#0078ff"/><circle cx="227.84" cy="237.47" r="2.3" fill="#0078ff"/><circle cx="235.85" cy="228.00" r="2.3" fill="#0078ff"/><circle cx="239.20" cy="237.11" r="2.3" fill="#0078ff"/><circle cx="217.29" cy="246.23" r="2.3" fill="#0078ff"/><circle cx="212.73" cy="260.45" r="2.3" fill="#0078ff"/><circle cx="191.22" cy="279.61" r="2.3" fill="#0078ff"/><circle cx="232.48" cy="236.75" r="2.3" fill="#0078ff"/><circle cx="249.59" cy="223.05" r="2.3" fill="#0078ff"/><circle cx="231.23" cy="243.05" r="2.3" fill="#0078ff"/><circle cx="122.64" cy="322.06" r="2.3" fill="#0078ff"/><circle cx="243.25" cy="225.48" r="2.3" fill="#0078ff"/><circle cx="127.48" cy="333.56" r="2.3" fill="#0078ff"/><circle cx="259.05" cy="213.47" r="2.3" fill="#0078ff"/><circle cx="235.92" cy="231.70" r="2.3" fill="#0078ff"/><circle cx="142.96" cy="305.34" r="2.3" fill="#0078ff"/><circle cx="245.28" cy="226.43" r="2.3" fill="#0078ff"/><circle cx="203.55" cy="268.70" r="2.3" fill="#007cff"/><circle cx="173.16" cy="296.33" r="2.3" fill="#007cff"/><circle cx="108.47" cy="349.15" r="2.3" fill="#007cff"/><circle cx="208.49" cy="264.30" r="2.3" fill="#007cff"/><circle cx="237.73" cy="229.79" r="2.3" fill="#007cff"/><circle cx="137.45" cy="312.03" r="2.3" fill="#007cff"/><circle cx="240.40" cy="231.70" r="2.3" fill="#007cff"/><circle cx="97.91" cy="343.02" r="2.3" fill="#007cff"/><circle cx="212.17" cy="259.85" r="2.3" fill="#007cff"/><circle cx="248.58" cy="221.79" r="2.3" fill="#007cff"/><circle cx="98.77" cy="358.44" r="2.3" fill="#007cff"/><circle cx="239.36" cy="231.57" r="2.3" fill="#007cff"/><circle cx="129.34" cy="316.88" r="2.3" fill="#007cff"/><circle cx="223.65" cy="240.69" r="2.3" fill="#007cff"/><circle cx="91.67" cy="349.16" r="2.3" fill="#007cff"/><circle cx="232.09" cy="238.45" r="2.3" fill="#0080ff"/><circle cx="121.68" cy="338.19" r="2.3" fill="#0080ff"/><circle cx="215.84" cy="246.24" r="2.3" fill="#0080ff"/><circle cx="88.68" cy="352.56" r="2.3" fill="#0080ff"/><circle cx="211.86" cy="259.51" r="2.3" fill="#0080ff"/><circle cx="228.89" cy="237.48" r="2.3" fill="#0080ff"/><circle cx="225.34" cy="240.29" r="2.3" fill="#0080ff"/><circle cx="170.86" cy="284.94" r="2.3" fill="#0080ff"/><circle cx="70.16" cy="376.04" r="2.3" fill="#0080ff"/><circle cx="258.32" cy="215.18" r="2.3" fill="#0080ff"/><circle cx="249.76" cy="219.99" r="2.3" fill="#0080ff"/><circle cx="201.82" cy="271.36" r="2.3" fill="#0080ff"/><circle cx="150.62" cy="299.40" r="2.3" fill="#0080ff"/><circle cx="203.07" cy="270.07" r="2.3" fill="#0080ff"/><circle cx="219.18" cy="248.58" r="2.3" fill="#0080ff"/><circle cx="238.47" cy="237.84" r="2.3" fill="#0080ff"/><circle cx="229.61" cy="240.67" r="2.3" fill="#0084ff"/><circle cx="222.15" cy="241.00" r="2.3" fill="#0084ff"/><circle cx="225.37" cy="239.80" r="2.3" fill="#0084ff"/><circle cx="172.56" cy="296.83" r="2.3" fill="#0084ff"/><circle cx="214.31" cy="248.27" r="2.3" fill="#0084ff"/><circle cx="233.27" cy="236.20" r="2.3" fill="#0084ff"/><circle cx="194.05" cy="277.42" r="2.3" fill="#0084ff"/><circle cx="165.31" cy="302.15" r="2.3" fill="#0084ff"/><circle cx="145.03" cy="319.79" r="2.3" fill="#0084ff"/><circle cx="220.85" cy="245.33" r="2.3" fill="#0084ff"/><circle cx="228.29" cy="237.65" r="2.3" fill="#0084ff"/><circle cx="116.82" cy="328.36" r="2.3" fill="#0084ff"/><circle cx="88.68" cy="352.65" r="2.3" fill="#0088ff"/><circle cx="200.89" cy="260.21" r="2.3" fill="#0088ff"/><circle cx="231.23" cy="242.42" r="2.3" fill="#0088ff"/><circle cx="227.85" cy="241.05" r="2.3" fill="#0088ff"/><circle cx="208.49" cy="252.25" r="2.3" fill="#0088ff"/><circle cx="181.07" cy="289.60" r="2.3" fill="#0088ff"/><circle cx="229.42" cy="235.85" r="2.3" fill="#0088ff"/><circle cx="100.76" cy="341.30" r="2.3" fill="#0088ff"/><circle cx="236.71" cy="231.27" r="2.3" fill="#0088ff"/><circle cx="165.68" cy="302.65" r="2.3" fill="#0088ff"/><circle cx="238.66" cy="233.04" r="2.3" fill="#0088ff"/><circle cx="169.18" cy="284.38" r="2.3" fill="#0088ff"/><circle cx="190.32" cy="266.45" r="2.3" fill="#0088ff"/><circle cx="243.54" cy="230.60" r="2.3" fill="#0088ff"/><circle cx="238.91" cy="228.33" r="2.3" fill="#0088ff"/><circle cx="177.62" cy="292.80" r="2.3" fill="#0088ff"/><circle cx="214.83" cy="251.88" r="2.3" fill="#0088ff"/><circle cx="91.02" cy="363.08" r="2.3" fill="#008cff"/><circle cx="186.66" cy="271.86" r="2.3" fill="#008cff"/><circle cx="201.69" cy="271.43" r="2.3" fill="#008cff"/><circle cx="87.74" cy="365.34" r="2.3" fill="#008cff"/><circle cx="246.25" cy="225.07" r="2.3" fill="#008cff"/><circle cx="230.27" cy="243.16" r="2.3" fill="#008cff"/><circle cx="147.31" cy="317.63" r="2.3" fill="#008cff"/><circle cx="228.99" cy="238.39" r="2.3" fill="#008cff"/><circle cx="214.57" cy="247.88" r="2.3" fill="#008cff"/><circle cx="241.22" cy="227.93" r="2.3" fill="#008cff"/><circle cx="133.41" cy="328.88" r="2.3" fill="#008cff"/><circle cx="210.09" cy="264.29" r="2.3" fill="#008cff"/><circle cx="172.98" cy="282.05" r="2.3" fill="#008cff"/><circle cx="207.87" cy="254.22" r="2.3" fill="#008cff"/><circle cx="214.86" cy="254.30" r="2.3" fill="#008cff"/><circle cx="158.22" cy="293.85" r="2.3" fill="#008cff"/><circle cx="217.95" cy="246.78" r="2.3" fill="#008cff"/><circle cx="224.56" cy="248.67" r="2.3" fill="#008cff"/><circle cx="207.18" cy="266.00" r="2.3" fill="#008cff"/><circle cx="233.97" cy="234.09" r="2.3" fill="#008cff"/><circle cx="235.61" cy="241.51" r="2.3" fill="#008cff"/><circle cx="233.81" cy="232.59" r="2.3" fill="#0090ff"/><circle cx="198.56" cy="261.12" r="2.3" fill="#0090ff"/><circle cx="244.00" cy="230.05" r="2.3" fill="#0090ff"/><circle cx="155.22" cy="310.95" r="2.3" fill="#0090ff"/><circle cx="207.96" cy="251.84" r="2.3" fill="#0090ff"/><circle cx="69.49" cy="376.62" r="2.3" fill="#0090ff"/><circle cx="198.48" cy="274.29" r="2.3" fill="#0090ff"/><circle cx="247.66" cy="226.55" r="2.3" fill="#0090ff"/><circle cx="221.94" cy="246.02" r="2.3" fill="#0090ff"/><circle cx="124.77" cy="336.09" r="2.3" fill="#0090ff"/><circle cx="214.10" cy="258.12" r="2.3" fill="#0090ff"/><circle cx="197.69" cy="274.57" r="2.3" fill="#0090ff"/><circle cx="204.12" cy="257.67" r="2.3" fill="#0090ff"/><circle cx="208.30" cy="259.99" r="2.3" fill="#0090ff"/><circle cx="213.36" cy="259.47" r="2.3" fill="#0090ff"/><circle cx="157.62" cy="308.39" r="2.3" fill="#0090ff"/><circle cx="115.13" cy="342.64" r="2.3" fill="#0090ff"/><circle cx="103.19" cy="339.97" r="2.3" fill="#0090ff"/><circle cx="224.37" cy="241.63" r="2.3" fill="#0094ff"/><circle cx="209.06" cy="254.34" r="2.3" fill="#0094ff"/><circle cx="225.41" cy="247.14" r="2.3" fill="#0094ff"/><circle cx="143.42" cy="305.92" r="2.3" fill="#0094ff"/><circle cx="242.28" cy="229.65" r="2.3" fill="#0094ff"/><circle cx="195.60" cy="263.74" r="2.3" fill="#0094ff"/><circle cx="185.72" cy="270.03" r="2.3" fill="#0094ff"/><circle cx="144.55" cy="304.45" r="2.3" fill="#0094ff"/><circle cx="222.57" cy="241.72" r="2.3" fill="#0094ff"/><circle cx="224.93" cy="246.29" r="2.3" fill="#0094ff"/><circle cx="223.76" cy="249.70" r="2.3" fill="#0094ff"/><circle cx="186.68" cy="270.27" r="2.3" fill="#0094ff"/><circle cx="220.78" cy="252.31" r="2.3" fill="#0094ff"/><circle cx="247.17" cy="222.53" r="2.3" fill="#0094ff"/><circle cx="72.90" cy="367.60" r="2.3" fill="#0094ff"/><circle cx="106.91" cy="336.54" r="2.3" fill="#0098ff"/><circle cx="184.82" cy="286.25" r="2.3" fill="#0098ff"/><circle cx="216.60" cy="254.38" r="2.3" fill="#0098ff"/><circle cx="235.20" cy="232.28" r="2.3" fill="#0098ff"/><circle cx="200.61" cy="259.37" r="2.3" fill="#0098ff"/><circle cx="171.66" cy="296.02" r="2.3" fill="#0098ff"/><circle cx="221.50" cy="248.53" r="2.3" fill="#0098ff"/><circle cx="155.92" cy="309.89" r="2.3" fill="#0098ff"/><circle cx="178.79" cy="288.26" r="2.3" fill="#0098ff"/><circle cx="217.01" cy="249.06" r="2.3" fill="#0098ff"/><circle cx="231.41" cy="241.38" r="2.3" fill="#0098ff"/><circle cx="185.78" cy="282.61" r="2.3" fill="#0098ff"/><circle cx="209.00" cy="253.87" r="2.3" fill="#0098ff"/><circle cx="201.18" cy="269.04" r="2.3" fill="#0098ff"/><circle cx="224.94" cy="242.31" r="2.3" fill="#0098ff"/><circle cx="162.00" cy="290.27" r="2.3" fill="#0098ff"/><circle cx="122.13" cy="322.90" r="2.3" fill="#0098ff"/><circle cx="245.06" cy="226.92" r="2.3" fill="#0098ff"/><circle cx="222.80" cy="249.08" r="2.3" fill="#0098ff"/><circle cx="200.32" cy="260.07" r="2.3" fill="#009cff"/><circle cx="249.38" cy="225.62" r="2.3" fill="#009cff"/><circle cx="183.54" cy="272.53" r="2.3" fill="#009cff"/><circle cx="226.06" cy="239.57" r="2.3" fill="#009cff"/><circle cx="163.41" cy="303.24" r="2.3" fill="#009cff"/><circle cx="215.76" cy="245.93" r="2.3" fill="#009cff"/><circle cx="230.97" cy="237.01" r="2.3" fill="#009cff"/><circle cx="237.46" cy="235.43" r="2.3" fill="#009cff"/><circle cx="227.12" cy="247.87" r="2.3" fill="#009cff"/><circle cx="113.54" cy="330.71" r="2.3" fill="#009cff"/><circle cx="193.27" cy="264.91" r="2.3" fill="#009cff"/><circle cx="75.33" cy="371.85" r="2.3" fill="#009cff"/><circle cx="219.96" cy="252.12" r="2.3" fill="#009cff"/><circle cx="216.43" cy="247.37" r="2.3" fill="#009cff"/><circle cx="213.09" cy="249.71" r="2.3" fill="#009cff"/><circle cx="237.14" cy="233.39" r="2.3" fill="#00a0ff"/><circle cx="231.97" cy="242.18" r="2.3" fill="#00a0ff"/><circle cx="141.71" cy="305.95" r="2.3" fill="#00a0ff"/><circle cx="191.25" cy="279.76" r="2.3" fill="#00a0ff"/><circle cx="179.84" cy="287.58" r="2.3" fill="#00a0ff"/><circle cx="218.09" cy="256.28" r="2.3" fill="#00a0ff"/><circle cx="193.01" cy="278.40" r="2.3" fill="#00a0ff"/><circle cx="232.23" cy="239.70" r="2.3" fill="#00a0ff"/><circle cx="221.42" cy="247.35" r="2.3" fill="#00a0ff"/><circle cx="224.24" cy="244.15" r="2.3" fill="#00a0ff"/><circle cx="187.93" cy="282.69" r="2.3" fill="#00a0ff"/><circle cx="227.04" cy="245.78" r="2.3" fill="#00a0ff"/><circle cx="89.57" cy="351.87" r="2.3" fill="#00a4ff"/><circle cx="210.42" cy="255.02" r="2.3" fill="#00a4ff"/><circle cx="215.35" cy="254.16" r="2.3" fill="#00a4ff"/><circle cx="163.31" cy="288.38" r="2.3" fill="#00a4ff"/><circle cx="142.70" cy="306.70" r="2.3" fill="#00a4ff"/><circle cx="228.50" cy="244.36" r="2.3" fill="#00a4ff"/><circle cx="88.98" cy="364.40" r="2.3" fill="#00a4ff"/><circle cx="180.31" cy="289.24" r="2.3" fill="#00a4ff"/><circle cx="212.37" cy="249.26" r="2.3" fill="#00a4ff"/><circle cx="167.96" cy="286.06" r="2.3" fill="#00a4ff"/><circle cx="189.68" cy="281.51" r="2.3" fill="#00a4ff"/><circle cx="212.04" cy="248.20" r="2.3" fill="#00a4ff"/><circle cx="212.08" cy="252.91" r="2.3" fill="#00a8ff"/><circle cx="241.53" cy="229.65" r="2.3" fill="#00a8ff"/><circle cx="215.31" cy="256.09" r="2.3" fill="#00a8ff"/><circle cx="213.27" cy="250.77" r="2.3" fill="#00a8ff"/><circle cx="167.72" cy="286.27" r="2.3" fill="#00a8ff"/><circle cx="80.18" cy="369.81" r="2.3" fill="#00a8ff"/><circle cx="83.42" cy="367.96" r="2.3" fill="#00a8ff"/><circle cx="233.13" cy="238.05" r="2.3" fill="#00a8ff"/><circle cx="223.44" cy="246.97" r="2.3" fill="#00a8ff"/><circle cx="87.96" cy="353.93" r="2.3" fill="#00a8ff"/><circle cx="212.27" cy="249.67" r="2.3" fill="#00a8ff"/><circle cx="215.44" cy="254.78" r="2.3" fill="#00a8ff"/><circle cx="227.33" cy="243.22" r="2.3" fill="#00a8ff"/><circle cx="221.54" cy="242.25" r="2.3" fill="#00a8ff"/><circle cx="225.80" cy="241.34" r="2.3" fill="#00a8ff"/><circle cx="156.34" cy="310.31" r="2.3" fill="#00acff"/><circle cx="206.92" cy="265.30" r="2.3" fill="#00acff"/><circle cx="211.73" cy="255.10" r="2.3" fill="#00acff"/><circle cx="227.31" cy="240.79" r="2.3" fill="#00acff"/><circle cx="221.44" cy="249.51" r="2.3" fill="#00acff"/><circle cx="192.26" cy="278.55" r="2.3" fill="#00acff"/><circle cx="232.68" cy="235.45" r="2.3" fill="#00acff"/><circle cx="154.17" cy="308.61" r="2.3" fill="#00acff"/><circle cx="231.79" cy="243.50" r="2.3" fill="#00acff"/><circle cx="185.05" cy="270.46" r="2.3" fill="#00b0ff"/><circle cx="173.87" cy="280.20" r="2.3" fill="#00b0ff"/><circle cx="126.56" cy="319.75" r="2.3" fill="#00b0ff"/><circle cx="236.61" cy="232.67" r="2.3" fill="#00b0ff"/><circle cx="123.51" cy="336.10" r="2.3" fill="#00b0ff"/><circle cx="228.41" cy="242.97" r="2.3" fill="#00b0ff"/><circle cx="205.47" cy="263.15" r="2.3" fill="#00b0ff"/><circle cx="218.18" cy="249.90" r="2.3" fill="#00b0ff"/><circle cx="206.25" cy="255.25" r="2.3" fill="#00b0ff"/><circle cx="136.69" cy="326.27" r="2.3" fill="#00b0ff"/><circle cx="215.54" cy="257.83" r="2.3" fill="#00b0ff"/><circle cx="103.62" cy="353.45" r="2.3" fill="#00b4ff"/><circle cx="182.68" cy="274.72" r="2.3" fill="#00b4ff"/><circle cx="212.02" cy="260.76" r="2.3" fill="#00b4ff"/><circle cx="201.25" cy="259.83" r="2.3" fill="#00b4ff"/><circle cx="231.31" cy="240.61" r="2.3" fill="#00b4ff"/><circle cx="177.12" cy="289.16" r="2.3" fill="#00b4ff"/><circle cx="76.52" cy="364.47" r="2.3" fill="#00b4ff"/><circle cx="213.24" cy="253.15" r="2.3" fill="#00b4ff"/><circle cx="205.76" cy="255.01" r="2.3" fill="#00b4ff"/><circle cx="203.48" cy="256.44" r="2.3" fill="#00b4ff"/><circle cx="180.54" cy="275.56" r="2.3" fill="#00b4ff"/><circle cx="208.07" cy="255.59" r="2.3" fill="#00b4ff"/><circle cx="209.07" cy="258.15" r="2.3" fill="#00b4ff"/><circle cx="137.22" cy="309.91" r="2.3" fill="#00b4ff"/><circle cx="224.20" cy="245.12" r="2.3" fill="#00b8ff"/><circle cx="242.12" cy="230.82" r="2.3" fill="#00b8ff"/><circle cx="235.58" cy="233.22" r="2.3" fill="#00b8ff"/><circle cx="210.39" cy="261.22" r="2.3" fill="#00b8ff"/><circle cx="212.73" cy="257.10" r="2.3" fill="#00b8ff"/><circle cx="220.96" cy="246.45" r="2.3" fill="#00b8ff"/><circle cx="230.26" cy="238.87" r="2.3" fill="#00b8ff"/><circle cx="203.56" cy="258.10" r="2.3" fill="#00b8ff"/><circle cx="188.46" cy="269.07" r="2.3" fill="#00b8ff"/><circle cx="165.19" cy="302.47" r="2.3" fill="#00b8ff"/><circle cx="219.30" cy="246.83" r="2.3" fill="#00bcff"/><circle cx="234.12" cy="233.90" r="2.3" fill="#00bcff"/><circle cx="226.58" cy="244.05" r="2.3" fill="#00bcff"/><circle cx="225.75" cy="243.70" r="2.3" fill="#00bcff"/><circle cx="189.13" cy="269.70" r="2.3" fill="#00bcff"/><circle cx="198.68" cy="261.43" r="2.3" fill="#00bcff"/><circle cx="187.87" cy="282.26" r="2.3" fill="#00bcff"/><circle cx="217.70" cy="250.00" r="2.3" fill="#00bcff"/><circle cx="84.28" cy="356.72" r="2.3" fill="#00bcff"/><circle cx="202.58" cy="257.40" r="2.3" fill="#00bcff"/><circle cx="222.12" cy="247.58" r="2.3" fill="#00bcff"/><circle cx="206.34" cy="266.28" r="2.3" fill="#00bcff"/><circle cx="202.71" cy="259.39" r="2.3" fill="#00bcff"/><circle cx="163.88" cy="288.78" r="2.3" fill="#00c0ff"/><circle cx="167.26" cy="300.13" r="2.3" fill="#00c0ff"/><circle cx="219.02" cy="247.86" r="2.3" fill="#00c0ff"/><circle cx="207.98" cy="254.07" r="2.3" fill="#00c0ff"/><circle cx="205.41" cy="257.36" r="2.3" fill="#00c0ff"/><circle cx="211.81" cy="259.06" r="2.3" fill="#00c0ff"/><circle cx="177.42" cy="279.01" r="2.3" fill="#00c0ff"/><circle cx="233.44" cy="236.27" r="2.3" fill="#00c0ff"/><circle cx="203.69" cy="258.18" r="2.3" fill="#00c0ff"/><circle cx="226.65" cy="243.58" r="2.3" fill="#00c0ff"/><circle cx="169.14" cy="285.84" r="2.3" fill="#00c0ff"/><circle cx="91.72" cy="350.03" r="2.3" fill="#00c0ff"/><circle cx="240.44" cy="231.15" r="2.3" fill="#00c0ff"/><circle cx="240.52" cy="229.50" r="2.3" fill="#00c0ff"/><circle cx="146.06" cy="317.96" r="2.3" fill="#00c0ff"/><circle cx="218.41" cy="244.92" r="2.3" fill="#00c0ff"/><circle cx="196.38" cy="274.47" r="2.3" fill="#00c0ff"/><circle cx="195.88" cy="264.79" r="2.3" fill="#00c0ff"/><circle cx="208.98" cy="253.79" r="2.3" fill="#00c0ff"/><circle cx="197.35" cy="269.82" r="2.3" fill="#00c0ff"/><circle cx="217.34" cy="251.83" r="2.3" fill="#00c4ff"/><circle cx="121.94" cy="325.12" r="2.3" fill="#00c4ff"/><circle cx="124.78" cy="335.16" r="2.3" fill="#00c4ff"/><circle cx="209.95" cy="254.44" r="2.3" fill="#00c4ff"/><circle cx="101.36" cy="355.68" r="2.3" fill="#00c4ff"/><circle cx="206.32" cy="256.05" r="2.3" fill="#00c4ff"/><circle cx="230.83" cy="239.27" r="2.3" fill="#00c4ff"/><circle cx="194.53" cy="264.01" r="2.3" fill="#00c4ff"/><circle cx="199.15" cy="263.41" r="2.3" fill="#00c4ff"/><circle cx="236.97" cy="230.01" r="2.3" fill="#00c4ff"/><circle cx="225.28" cy="241.78" r="2.3" fill="#00c4ff"/><circle cx="220.83" cy="249.05" r="2.3" fill="#00c4ff"/><circle cx="221.62" cy="246.34" r="2.3" fill="#00c4ff"/><circle cx="203.04" cy="257.97" r="2.3" fill="#00c4ff"/><circle cx="172.86" cy="293.77" r="2.3" fill="#00c4ff"/><circle cx="185.45" cy="284.25" r="2.3" fill="#00c8ff"/><circle cx="223.08" cy="247.57" r="2.3" fill="#00c8ff"/><circle cx="198.02" cy="263.10" r="2.3" fill="#00c8ff"/><circle cx="213.31" cy="251.13" r="2.3" fill="#00c8ff"/><circle cx="164.41" cy="301.64" r="2.3" fill="#00c8ff"/><circle cx="125.33" cy="320.57" r="2.3" fill="#00c8ff"/><circle cx="201.49" cy="266.39" r="2.3" fill="#00c8ff"/><circle cx="68.36" cy="374.23" r="2.3" fill="#00c8ff"/><circle cx="214.94" cy="257.48" r="2.3" fill="#00c8ff"/><circle cx="95.45" cy="346.46" r="2.3" fill="#00c8ff"/><circle cx="165.20" cy="288.22" r="2.3" fill="#00c8ff"/><circle cx="224.68" cy="247.52" r="2.3" fill="#00c8ff"/><circle cx="229.38" cy="240.28" r="2.3" fill="#00c8ff"/><circle cx="208.73" cy="252.84" r="2.3" fill="#00c8ff"/><circle cx="202.51" cy="269.04" r="2.3" fill="#00c8ff"/><circle cx="213.97" cy="259.22" r="2.3" fill="#00c8ff"/><circle cx="136.11" cy="325.78" r="2.3" fill="#00ccff"/><circle cx="135.21" cy="325.77" r="2.3" fill="#00ccff"/><circle cx="224.43" cy="246.88" r="2.3" fill="#00ccff"/><circle cx="171.13" cy="295.99" r="2.3" fill="#00ccff"/><circle cx="118.03" cy="327.19" r="2.3" fill="#00ccff"/><circle cx="116.37" cy="329.08" r="2.3" fill="#00ccff"/><circle cx="144.34" cy="304.97" r="2.3" fill="#00ccff"/><circle cx="229.14" cy="240.98" r="2.3" fill="#00ccff"/><circle cx="201.75" cy="259.98" r="2.3" fill="#00ccff"/><circle cx="120.05" cy="328.21" r="2.3" fill="#00ccff"/><circle cx="222.46" cy="244.79" r="2.3" fill="#00ccff"/><circle cx="71.19" cy="375.28" r="2.3" fill="#00ccff"/><circle cx="215.07" cy="252.05" r="2.3" fill="#00ccff"/><circle cx="225.55" cy="240.01" r="2.3" fill="#00ccff"/><circle cx="199.49" cy="272.07" r="2.3" fill="#00ccff"/><circle cx="175.01" cy="280.60" r="2.3" fill="#00ccff"/><circle cx="174.13" cy="281.91" r="2.3" fill="#00d0ff"/><circle cx="192.79" cy="276.39" r="2.3" fill="#00d0ff"/><circle cx="169.64" cy="297.63" r="2.3" fill="#00d0ff"/><circle cx="187.72" cy="272.40" r="2.3" fill="#00d0ff"/><circle cx="150.93" cy="312.93" r="2.3" fill="#00d0ff"/><circle cx="211.24" cy="254.53" r="2.3" fill="#00d0ff"/><circle cx="161.34" cy="291.83" r="2.3" fill="#00d0ff"/><circle cx="212.87" cy="256.68" r="2.3" fill="#00d0ff"/><circle cx="172.35" cy="282.99" r="2.3" fill="#00d0ff"/><circle cx="183.54" cy="273.26" r="2.3" fill="#00d0ff"/><circle cx="221.47" cy="244.86" r="2.3" fill="#00d0ff"/><circle cx="222.43" cy="245.04" r="2.3" fill="#00d4ff"/><circle cx="221.86" cy="247.79" r="2.3" fill="#00d4ff"/><circle cx="144.75" cy="318.11" r="2.3" fill="#00d4ff"/><circle cx="169.23" cy="285.13" r="2.3" fill="#00d4ff"/><circle cx="196.10" cy="266.83" r="2.3" fill="#00d4ff"/><circle cx="186.67" cy="280.55" r="2.3" fill="#00d4ff"/><circle cx="230.29" cy="239.94" r="2.3" fill="#00d4ff"/><circle cx="192.10" cy="277.58" r="2.3" fill="#00d4ff"/><circle cx="176.97" cy="278.72" r="2.3" fill="#00d4ff"/><circle cx="185.47" cy="284.04" r="2.3" fill="#00d4ff"/><circle cx="160.39" cy="293.87" r="2.3" fill="#00d4ff"/><circle cx="164.12" cy="303.58" r="2.3" fill="#00d4ff"/><circle cx="206.54" cy="265.79" r="2.3" fill="#00d4ff"/><circle cx="171.38" cy="295.29" r="2.3" fill="#00d4ff"/><circle cx="107.41" cy="336.48" r="2.3" fill="#00d4ff"/><circle cx="221.76" cy="250.13" r="2.3" fill="#00d4ff"/><circle cx="180.73" cy="276.18" r="2.3" fill="#00d4ff"/><circle cx="109.84" cy="334.08" r="2.3" fill="#00d4ff"/><circle cx="183.59" cy="285.80" r="2.3" fill="#00d8ff"/><circle cx="215.94" cy="248.25" r="2.3" fill="#00d8ff"/><circle cx="76.41" cy="370.09" r="2.3" fill="#00d8ff"/><circle cx="229.85" cy="242.21" r="2.3" fill="#00d8ff"/><circle cx="215.12" cy="251.91" r="2.3" fill="#00d8ff"/><circle cx="180.91" cy="276.46" r="2.3" fill="#00d8ff"/><circle cx="192.84" cy="278.24" r="2.3" fill="#00d8ff"/><circle cx="82.97" cy="358.83" r="2.3" fill="#00d8ff"/><circle cx="77.45" cy="363.00" r="2.3" fill="#00d8ff"/><circle cx="76.19" cy="364.97" r="2.3" fill="#00d8ff"/><circle cx="195.74" cy="265.60" r="2.3" fill="#00d8ff"/><circle cx="203.99" cy="264.97" r="2.3" fill="#00dcfe"/><circle cx="189.04" cy="273.40" r="2.3" fill="#00dcfe"/><circle cx="142.10" cy="308.06" r="2.3" fill="#00dcfe"/><circle cx="194.47" cy="275.05" r="2.3" fill="#00dcfe"/><circle cx="224.27" cy="244.82" r="2.3" fill="#00dcfe"/><circle cx="219.47" cy="248.01" r="2.3" fill="#00dcfe"/><circle cx="212.18" cy="253.51" r="2.3" fill="#00dcfe"/><circle cx="93.26" cy="349.14" r="2.3" fill="#00dcfe"/><circle cx="107.91" cy="336.27" r="2.3" fill="#00dcfe"/><circle cx="209.22" cy="261.34" r="2.3" fill="#00dcfe"/><circle cx="201.78" cy="262.03" r="2.3" fill="#00dcfe"/><circle cx="127.15" cy="319.62" r="2.3" fill="#00dcfe"/><circle cx="216.87" cy="250.59" r="2.3" fill="#00e0fb"/><circle cx="221.59" cy="249.32" r="2.3" fill="#00e0fb"/><circle cx="206.83" cy="257.21" r="2.3" fill="#00e0fb"/><circle cx="126.31" cy="320.63" r="2.3" fill="#00e0fb"/><circle cx="189.20" cy="279.42" r="2.3" fill="#00e0fb"/><circle cx="204.13" cy="261.95" r="2.3" fill="#00e0fb"/><circle cx="199.22" cy="271.51" r="2.3" fill="#00e0fb"/><circle cx="69.78" cy="371.87" r="2.3" fill="#00e4f8"/><circle cx="200.83" cy="260.91" r="2.3" fill="#00e4f8"/><circle cx="100.22" cy="354.80" r="2.3" fill="#00e4f8"/><circle cx="195.71" cy="273.96" r="2.3" fill="#00e4f8"/><circle cx="73.69" cy="367.92" r="2.3" fill="#00e4f8"/><circle cx="138.57" cy="323.61" r="2.3" fill="#00e4f8"/><circle cx="211.80" cy="256.36" r="2.3" fill="#00e4f8"/><circle cx="198.06" cy="271.53" r="2.3" fill="#00e4f8"/><circle cx="77.90" cy="363.30" r="2.3" fill="#00e4f8"/><circle cx="205.97" cy="260.99" r="2.3" fill="#00e4f8"/><circle cx="221.74" cy="248.29" r="2.3" fill="#00e4f8"/><circle cx="155.31" cy="308.63" r="2.3" fill="#00e4f8"/><circle cx="165.44" cy="301.31" r="2.3" fill="#00e4f8"/><circle cx="93.21" cy="361.41" r="2.3" fill="#00e4f8"/><circle cx="88.56" cy="352.95" r="2.3" fill="#00e4f8"/><circle cx="222.13" cy="245.77" r="2.3" fill="#00e4f8"/><circle cx="186.73" cy="271.50" r="2.3" fill="#00e4f8"/><circle cx="190.99" cy="278.99" r="2.3" fill="#00e4f8"/><circle cx="200.73" cy="263.30" r="2.3" fill="#00e4f8"/><circle cx="196.08" cy="268.27" r="2.3" fill="#00e4f8"/><circle cx="218.47" cy="253.16" r="2.3" fill="#00e4f8"/><circle cx="211.78" cy="255.83" r="2.3" fill="#02e8f4"/><circle cx="202.35" cy="267.07" r="2.3" fill="#02e8f4"/><circle cx="127.81" cy="332.28" r="2.3" fill="#02e8f4"/><circle cx="192.68" cy="272.88" r="2.3" fill="#02e8f4"/><circle cx="229.57" cy="240.10" r="2.3" fill="#02e8f4"/><circle cx="178.30" cy="288.79" r="2.3" fill="#02e8f4"/><circle cx="138.36" cy="310.93" r="2.3" fill="#02e8f4"/><circle cx="221.56" cy="244.54" r="2.3" fill="#02e8f4"/><circle cx="214.61" cy="253.31" r="2.3" fill="#02e8f4"/><circle cx="210.97" cy="254.34" r="2.3" fill="#02e8f4"/><circle cx="211.51" cy="254.21" r="2.3" fill="#02e8f4"/><circle cx="184.36" cy="276.12" r="2.3" fill="#02e8f4"/><circle cx="192.06" cy="266.80" r="2.3" fill="#02e8f4"/><circle cx="218.19" cy="250.55" r="2.3" fill="#02e8f4"/><circle cx="187.91" cy="272.29" r="2.3" fill="#02e8f4"/><circle cx="158.38" cy="293.87" r="2.3" fill="#02e8f4"/><circle cx="131.16" cy="328.64" r="2.3" fill="#02e8f4"/><circle cx="197.74" cy="267.14" r="2.3" fill="#06ecf1"/><circle cx="160.91" cy="303.29" r="2.3" fill="#06ecf1"/><circle cx="211.32" cy="252.78" r="2.3" fill="#06ecf1"/><circle cx="180.20" cy="275.04" r="2.3" fill="#06ecf1"/><circle cx="185.75" cy="273.09" r="2.3" fill="#06ecf1"/><circle cx="153.18" cy="311.60" r="2.3" fill="#06ecf1"/><circle cx="196.24" cy="270.95" r="2.3" fill="#06ecf1"/><circle cx="165.03" cy="289.70" r="2.3" fill="#06ecf1"/><circle cx="217.80" cy="253.27" r="2.3" fill="#06ecf1"/><circle cx="119.64" cy="326.22" r="2.3" fill="#06ecf1"/><circle cx="193.38" cy="271.89" r="2.3" fill="#06ecf1"/><circle cx="129.96" cy="318.19" r="2.3" fill="#06ecf1"/><circle cx="83.58" cy="367.36" r="2.3" fill="#06ecf1"/><circle cx="89.18" cy="352.63" r="2.3" fill="#06ecf1"/><circle cx="196.25" cy="267.01" r="2.3" fill="#06ecf1"/><circle cx="111.45" cy="345.76" r="2.3" fill="#06ecf1"/><circle cx="207.84" cy="258.08" r="2.3" fill="#06ecf1"/><circle cx="206.14" cy="259.35" r="2.3" fill="#06ecf1"/><circle cx="217.87" cy="246.08" r="2.3" fill="#06ecf1"/><circle cx="211.10" cy="255.68" r="2.3" fill="#06ecf1"/><circle cx="124.04" cy="322.86" r="2.3" fill="#06ecf1"/><circle cx="210.64" cy="256.91" r="2.3" fill="#06ecf1"/><circle cx="210.32" cy="259.47" r="2.3" fill="#09f0ee"/><circle cx="96.52" cy="358.74" r="2.3" fill="#09f0ee"/><circle cx="196.79" cy="271.95" r="2.3" fill="#09f0ee"/><circle cx="160.09" cy="303.75" r="2.3" fill="#09f0ee"/><circle cx="133.53" cy="327.93" r="2.3" fill="#09f0ee"/><circle cx="217.71" cy="249.51" r="2.3" fill="#09f0ee"/><circle cx="147.43" cy="315.13" r="2.3" fill="#09f0ee"/><circle cx="103.48" cy="351.86" r="2.3" fill="#09f0ee"/><circle cx="155.82" cy="307.86" r="2.3" fill="#09f0ee"/><circle cx="207.37" cy="256.75" r="2.3" fill="#09f0ee"/><circle cx="222.36" cy="247.31" r="2.3" fill="#09f0ee"/><circle cx="205.45" cy="260.46" r="2.3" fill="#09f0ee"/><circle cx="193.80" cy="265.63" r="2.3" fill="#09f0ee"/><circle cx="196.40" cy="263.46" r="2.3" fill="#09f0ee"/><circle cx="199.95" cy="270.64" r="2.3" fill="#0cf4eb"/><circle cx="196.98" cy="263.14" r="2.3" fill="#0cf4eb"/><circle cx="126.37" cy="332.84" r="2.3" fill="#0cf4eb"/><circle cx="131.32" cy="316.64" r="2.3" fill="#0cf4eb"/><circle cx="205.73" cy="262.37" r="2.3" fill="#0cf4eb"/><circle cx="164.93" cy="301.50" r="2.3" fill="#0cf4eb"/><circle cx="188.49" cy="280.15" r="2.3" fill="#0cf4eb"/><circle cx="202.15" cy="261.09" r="2.3" fill="#0cf4eb"/><circle cx="212.70" cy="257.29" r="2.3" fill="#0cf4eb"/><circle cx="188.14" cy="274.42" r="2.3" fill="#0cf4eb"/><circle cx="188.07" cy="281.30" r="2.3" fill="#0cf4eb"/><circle cx="203.28" cy="265.01" r="2.3" fill="#0cf4eb"/><circle cx="175.88" cy="286.65" r="2.3" fill="#0cf4eb"/><circle cx="194.47" cy="270.52" r="2.3" fill="#0cf4eb"/><circle cx="110.49" cy="334.35" r="2.3" fill="#0ff8e7"/><circle cx="207.92" cy="260.06" r="2.3" fill="#0ff8e7"/><circle cx="158.60" cy="294.74" r="2.3" fill="#0ff8e7"/><circle cx="224.29" cy="243.45" r="2.3" fill="#0ff8e7"/><circle cx="177.05" cy="291.58" r="2.3" fill="#0ff8e7"/><circle cx="198.38" cy="274.07" r="2.3" fill="#0ff8e7"/><circle cx="200.88" cy="260.09" r="2.3" fill="#0ff8e7"/><circle cx="142.20" cy="320.00" r="2.3" fill="#0ff8e7"/><circle cx="194.52" cy="268.87" r="2.3" fill="#0ff8e7"/><circle cx="175.00" cy="292.05" r="2.3" fill="#0ff8e7"/><circle cx="134.74" cy="314.01" r="2.3" fill="#13fce4"/><circle cx="91.68" cy="350.57" r="2.3" fill="#13fce4"/><circle cx="208.23" cy="260.74" r="2.3" fill="#13fce4"/><circle cx="191.25" cy="279.02" r="2.3" fill="#13fce4"/><circle cx="166.46" cy="286.92" r="2.3" fill="#13fce4"/><circle cx="73.33" cy="371.18" r="2.3" fill="#13fce4"/><circle cx="213.74" cy="257.10" r="2.3" fill="#13fce4"/><circle cx="168.29" cy="288.24" r="2.3" fill="#13fce4"/><circle cx="204.64" cy="264.75" r="2.3" fill="#13fce4"/><circle cx="178.54" cy="288.68" r="2.3" fill="#13fce4"/><circle cx="213.11" cy="257.54" r="2.3" fill="#13fce4"/><circle cx="170.79" cy="283.73" r="2.3" fill="#13fce4"/><circle cx="123.68" cy="322.60" r="2.3" fill="#13fce4"/><circle cx="178.42" cy="286.44" r="2.3" fill="#13fce4"/><circle cx="204.28" cy="262.63" r="2.3" fill="#13fce4"/><circle cx="149.11" cy="313.99" r="2.3" fill="#13fce4"/><circle cx="147.99" cy="314.39" r="2.3" fill="#16ffe1"/><circle cx="145.89" cy="305.72" r="2.3" fill="#16ffe1"/><circle cx="130.43" cy="317.37" r="2.3" fill="#16ffe1"/><circle cx="78.63" cy="362.83" r="2.3" fill="#16ffe1"/><circle cx="201.76" cy="260.51" r="2.3" fill="#16ffe1"/><circle cx="139.26" cy="323.34" r="2.3" fill="#16ffe1"/><circle cx="187.53" cy="279.74" r="2.3" fill="#16ffe1"/><circle cx="144.92" cy="305.91" r="2.3" fill="#16ffe1"/><circle cx="212.77" cy="250.83" r="2.3" fill="#16ffe1"/><circle cx="190.73" cy="270.66" r="2.3" fill="#16ffe1"/><circle cx="184.49" cy="272.52" r="2.3" fill="#16ffe1"/><circle cx="189.38" cy="271.07" r="2.3" fill="#16ffe1"/><circle cx="86.33" cy="355.58" r="2.3" fill="#19ffde"/><circle cx="207.99" cy="256.11" r="2.3" fill="#19ffde"/><circle cx="200.10" cy="264.61" r="2.3" fill="#19ffde"/><circle cx="193.37" cy="272.30" r="2.3" fill="#19ffde"/><circle cx="74.18" cy="371.80" r="2.3" fill="#19ffde"/><circle cx="172.85" cy="293.21" r="2.3" fill="#19ffde"/><circle cx="197.38" cy="271.76" r="2.3" fill="#19ffde"/><circle cx="131.14" cy="317.72" r="2.3" fill="#19ffde"/><circle cx="168.80" cy="287.65" r="2.3" fill="#1cffdb"/><circle cx="188.50" cy="272.31" r="2.3" fill="#1cffdb"/><circle cx="136.45" cy="325.45" r="2.3" fill="#1cffdb"/><circle cx="181.32" cy="276.13" r="2.3" fill="#1cffdb"/><circle cx="182.96" cy="279.47" r="2.3" fill="#1cffdb"/><circle cx="183.59" cy="283.75" r="2.3" fill="#1cffdb"/><circle cx="76.17" cy="366.05" r="2.3" fill="#1cffdb"/><circle cx="74.82" cy="370.61" r="2.3" fill="#1cffdb"/><circle cx="174.30" cy="282.36" r="2.3" fill="#1cffdb"/><circle cx="131.63" cy="317.08" r="2.3" fill="#1cffdb"/><circle cx="199.83" cy="261.77" r="2.3" fill="#1cffdb"/><circle cx="170.98" cy="292.74" r="2.3" fill="#1cffdb"/><circle cx="217.05" cy="253.07" r="2.3" fill="#1cffdb"/><circle cx="134.30" cy="325.88" r="2.3" fill="#1fffd7"/><circle cx="169.21" cy="285.86" r="2.3" fill="#1fffd7"/><circle cx="205.55" cy="261.19" r="2.3" fill="#1fffd7"/><circle cx="168.29" cy="286.30" r="2.3" fill="#1fffd7"/><circle cx="164.10" cy="295.89" r="2.3" fill="#1fffd7"/><circle cx="168.54" cy="287.05" r="2.3" fill="#1fffd7"/><circle cx="165.91" cy="298.17" r="2.3" fill="#1fffd7"/><circle cx="85.15" cy="356.52" r="2.3" fill="#1fffd7"/><circle cx="145.24" cy="316.40" r="2.3" fill="#1fffd7"/><circle cx="199.29" cy="265.00" r="2.3" fill="#1fffd7"/><circle cx="205.04" cy="257.12" r="2.3" fill="#1fffd7"/><circle cx="73.63" cy="367.63" r="2.3" fill="#1fffd7"/><circle cx="190.78" cy="272.84" r="2.3" fill="#1fffd7"/><circle cx="196.18" cy="272.25" r="2.3" fill="#1fffd7"/><circle cx="199.04" cy="269.64" r="2.3" fill="#1fffd7"/><circle cx="148.49" cy="315.45" r="2.3" fill="#1fffd7"/><circle cx="201.07" cy="261.69" r="2.3" fill="#1fffd7"/><circle cx="176.63" cy="285.26" r="2.3" fill="#1fffd7"/><circle cx="212.44" cy="254.23" r="2.3" fill="#1fffd7"/><circle cx="212.57" cy="253.60" r="2.3" fill="#1fffd7"/><circle cx="185.63" cy="277.69" r="2.3" fill="#1fffd7"/><circle cx="167.45" cy="297.74" r="2.3" fill="#1fffd7"/><circle cx="164.37" cy="289.95" r="2.3" fill="#23ffd4"/><circle cx="194.54" cy="266.78" r="2.3" fill="#23ffd4"/><circle cx="167.10" cy="286.92" r="2.3" fill="#23ffd4"/><circle cx="151.50" cy="311.99" r="2.3" fill="#23ffd4"/><circle cx="211.19" cy="254.30" r="2.3" fill="#23ffd4"/><circle cx="186.84" cy="276.99" r="2.3" fill="#23ffd4"/><circle cx="188.03" cy="272.57" r="2.3" fill="#23ffd4"/><circle cx="158.26" cy="296.00" r="2.3" fill="#23ffd4"/><circle cx="195.05" cy="271.84" r="2.3" fill="#23ffd4"/><circle cx="162.55" cy="303.13" r="2.3" fill="#23ffd4"/><circle cx="185.53" cy="275.89" r="2.3" fill="#23ffd4"/><circle cx="151.65" cy="311.90" r="2.3" fill="#23ffd4"/><circle cx="203.67" cy="263.56" r="2.3" fill="#23ffd4"/><circle cx="178.42" cy="282.26" r="2.3" fill="#23ffd4"/><circle cx="205.34" cy="260.80" r="2.3" fill="#23ffd4"/><circle cx="180.25" cy="279.18" r="2.3" fill="#26ffd1"/><circle cx="159.54" cy="305.50" r="2.3" fill="#26ffd1"/><circle cx="146.27" cy="315.01" r="2.3" fill="#26ffd1"/><circle cx="82.00" cy="360.68" r="2.3" fill="#26ffd1"/><circle cx="169.76" cy="287.24" r="2.3" fill="#26ffd1"/><circle cx="212.49" cy="251.64" r="2.3" fill="#26ffd1"/><circle cx="120.91" cy="326.31" r="2.3" fill="#26ffd1"/><circle cx="166.04" cy="289.78" r="2.3" fill="#26ffd1"/><circle cx="132.71" cy="315.76" r="2.3" fill="#26ffd1"/><circle cx="170.16" cy="296.81" r="2.3" fill="#26ffd1"/><circle cx="86.70" cy="355.55" r="2.3" fill="#26ffd1"/><circle cx="183.65" cy="278.33" r="2.3" fill="#26ffd1"/><circle cx="92.12" cy="361.55" r="2.3" fill="#26ffd1"/><circle cx="140.23" cy="309.84" r="2.3" fill="#26ffd1"/><circle cx="181.31" cy="278.06" r="2.3" fill="#29ffce"/><circle cx="158.94" cy="304.19" r="2.3" fill="#29ffce"/><circle cx="201.22" cy="265.13" r="2.3" fill="#29ffce"/><circle cx="135.51" cy="314.87" r="2.3" fill="#29ffce"/><circle cx="182.37" cy="277.70" r="2.3" fill="#29ffce"/><circle cx="169.55" cy="296.07" r="2.3" fill="#29ffce"/><circle cx="197.71" cy="267.03" r="2.3" fill="#29ffce"/><circle cx="124.75" cy="323.35" r="2.3" fill="#29ffce"/><circle cx="144.77" cy="315.34" r="2.3" fill="#29ffce"/><circle cx="206.50" cy="257.39" r="2.3" fill="#29ffce"/><circle cx="176.67" cy="289.81" r="2.3" fill="#29ffce"/><circle cx="181.46" cy="275.97" r="2.3" fill="#2cffca"/><circle cx="154.76" cy="297.40" r="2.3" fill="#2cffca"/><circle cx="198.30" cy="263.11" r="2.3" fill="#2cffca"/><circle cx="174.82" cy="281.31" r="2.3" fill="#2cffca"/><circle cx="164.14" cy="291.47" r="2.3" fill="#2cffca"/><circle cx="198.25" cy="264.15" r="2.3" fill="#2cffca"/><circle cx="153.14" cy="310.04" r="2.3" fill="#2cffca"/><circle cx="188.68" cy="276.34" r="2.3" fill="#2cffca"/><circle cx="178.10" cy="288.17" r="2.3" fill="#2cffca"/><circle cx="182.53" cy="276.46" r="2.3" fill="#2cffca"/><circle cx="93.54" cy="360.16" r="2.3" fill="#2cffca"/><circle cx="158.71" cy="304.92" r="2.3" fill="#2cffca"/><circle cx="174.16" cy="284.83" r="2.3" fill="#30ffc7"/><circle cx="135.64" cy="326.29" r="2.3" fill="#30ffc7"/><circle cx="172.81" cy="284.27" r="2.3" fill="#30ffc7"/><circle cx="145.27" cy="318.02" r="2.3" fill="#30ffc7"/><circle cx="202.23" cy="261.01" r="2.3" fill="#30ffc7"/><circle cx="98.53" cy="343.97" r="2.3" fill="#30ffc7"/><circle cx="192.59" cy="270.93" r="2.3" fill="#33ffc4"/><circle cx="189.73" cy="270.46" r="2.3" fill="#33ffc4"/><circle cx="70.26" cy="374.37" r="2.3" fill="#33ffc4"/><circle cx="177.86" cy="288.57" r="2.3" fill="#33ffc4"/><circle cx="198.68" cy="266.03" r="2.3" fill="#33ffc4"/><circle cx="172.72" cy="294.46" r="2.3" fill="#33ffc4"/><circle cx="177.84" cy="281.86" r="2.3" fill="#33ffc4"/><circle cx="185.80" cy="279.77" r="2.3" fill="#33ffc4"/><circle cx="165.25" cy="301.50" r="2.3" fill="#33ffc4"/><circle cx="140.08" cy="320.99" r="2.3" fill="#33ffc4"/><circle cx="207.27" cy="258.73" r="2.3" fill="#33ffc4"/><circle cx="88.23" cy="353.63" r="2.3" fill="#36ffc1"/><circle cx="211.85" cy="252.19" r="2.3" fill="#36ffc1"/><circle cx="190.28" cy="270.63" r="2.3" fill="#36ffc1"/><circle cx="206.34" cy="259.72" r="2.3" fill="#36ffc1"/><circle cx="184.87" cy="275.03" r="2.3" fill="#36ffc1"/><circle cx="186.83" cy="279.52" r="2.3" fill="#36ffc1"/><circle cx="112.10" cy="345.74" r="2.3" fill="#36ffc1"/><circle cx="203.21" cy="260.17" r="2.3" fill="#36ffc1"/><circle cx="196.54" cy="268.79" r="2.3" fill="#36ffc1"/><circle cx="203.76" cy="263.65" r="2.3" fill="#36ffc1"/><circle cx="166.10" cy="288.91" r="2.3" fill="#36ffc1"/><circle cx="94.47" cy="347.89" r="2.3" fill="#36ffc1"/><circle cx="129.47" cy="318.23" r="2.3" fill="#36ffc1"/><circle cx="184.27" cy="277.04" r="2.3" fill="#39ffbe"/><circle cx="70.80" cy="373.18" r="2.3" fill="#39ffbe"/><circle cx="165.10" cy="290.92" r="2.3" fill="#39ffbe"/><circle cx="182.43" cy="284.92" r="2.3" fill="#39ffbe"/><circle cx="163.92" cy="290.41" r="2.3" fill="#39ffbe"/><circle cx="196.24" cy="270.95" r="2.3" fill="#39ffbe"/><circle cx="179.87" cy="277.36" r="2.3" fill="#39ffbe"/><circle cx="150.41" cy="302.75" r="2.3" fill="#39ffbe"/><circle cx="112.59" cy="343.95" r="2.3" fill="#39ffbe"/><circle cx="199.58" cy="269.17" r="2.3" fill="#39ffbe"/><circle cx="74.54" cy="368.71" r="2.3" fill="#39ffbe"/><circle cx="183.43" cy="276.22" r="2.3" fill="#39ffbe"/><circle cx="217.24" cy="253.29" r="2.3" fill="#3cffba"/><circle cx="193.53" cy="273.75" r="2.3" fill="#3cffba"/><circle cx="179.25" cy="277.72" r="2.3" fill="#3cffba"/><circle cx="216.16" cy="252.84" r="2.3" fill="#3cffba"/><circle cx="88.36" cy="363.53" r="2.3" fill="#3cffba"/><circle cx="125.92" cy="332.57" r="2.3" fill="#3cffba"/><circle cx="195.90" cy="270.69" r="2.3" fill="#3cffba"/><circle cx="176.95" cy="288.52" r="2.3" fill="#3cffba"/><circle cx="137.17" cy="312.48" r="2.3" fill="#3cffba"/><circle cx="177.44" cy="279.52" r="2.3" fill="#3cffba"/><circle cx="164.39" cy="291.89" r="2.3" fill="#3cffba"/><circle cx="183.27" cy="285.40" r="2.3" fill="#3cffba"/><circle cx="173.78" cy="283.60" r="2.3" fill="#3cffba"/><circle cx="120.28" cy="326.34" r="2.3" fill="#3cffba"/><circle cx="180.37" cy="279.99" r="2.3" fill="#40ffb7"/><circle cx="200.47" cy="264.82" r="2.3" fill="#40ffb7"/><circle cx="158.91" cy="304.44" r="2.3" fill="#40ffb7"/><circle cx="160.49" cy="293.89" r="2.3" fill="#40ffb7"/><circle cx="73.71" cy="372.52" r="2.3" fill="#40ffb7"/><circle cx="77.02" cy="369.47" r="2.3" fill="#40ffb7"/><circle cx="175.97" cy="290.87" r="2.3" fill="#40ffb7"/><circle cx="170.83" cy="292.58" r="2.3" fill="#40ffb7"/><circle cx="190.10" cy="274.26" r="2.3" fill="#40ffb7"/><circle cx="161.48" cy="303.30" r="2.3" fill="#40ffb7"/><circle cx="184.15" cy="277.94" r="2.3" fill="#40ffb7"/><circle cx="118.84" cy="328.32" r="2.3" fill="#40ffb7"/><circle cx="166.99" cy="288.56" r="2.3" fill="#43ffb4"/><circle cx="170.06" cy="287.25" r="2.3" fill="#43ffb4"/><circle cx="136.53" cy="325.10" r="2.3" fill="#43ffb4"/><circle cx="195.44" cy="266.04" r="2.3" fill="#43ffb4"/><circle cx="190.67" cy="270.34" r="2.3" fill="#43ffb4"/><circle cx="113.93" cy="331.15" r="2.3" fill="#43ffb4"/><circle cx="170.22" cy="286.83" r="2.3" fill="#43ffb4"/><circle cx="165.17" cy="296.73" r="2.3" fill="#43ffb4"/><circle cx="126.35" cy="321.32" r="2.3" fill="#43ffb4"/><circle cx="190.57" cy="275.92" r="2.3" fill="#43ffb4"/><circle cx="160.59" cy="302.30" r="2.3" fill="#43ffb4"/><circle cx="204.83" cy="257.98" r="2.3" fill="#43ffb4"/><circle cx="169.47" cy="297.41" r="2.3" fill="#43ffb4"/><circle cx="163.42" cy="299.76" r="2.3" fill="#43ffb4"/><circle cx="156.95" cy="307.80" r="2.3" fill="#46ffb1"/><circle cx="191.54" cy="274.04" r="2.3" fill="#46ffb1"/><circle cx="198.82" cy="270.62" r="2.3" fill="#46ffb1"/><circle cx="183.82" cy="275.24" r="2.3" fill="#46ffb1"/><circle cx="97.84" cy="346.24" r="2.3" fill="#46ffb1"/><circle cx="167.40" cy="290.30" r="2.3" fill="#46ffb1"/><circle cx="201.46" cy="265.98" r="2.3" fill="#46ffb1"/><circle cx="159.12" cy="299.24" r="2.3" fill="#46ffb1"/><circle cx="157.18" cy="307.12" r="2.3" fill="#46ffb1"/><circle cx="183.84" cy="275.90" r="2.3" fill="#46ffb1"/><circle cx="134.80" cy="326.52" r="2.3" fill="#46ffb1"/><circle cx="162.49" cy="292.43" r="2.3" fill="#46ffb1"/><circle cx="191.71" cy="274.72" r="2.3" fill="#46ffb1"/><circle cx="87.18" cy="357.10" r="2.3" fill="#46ffb1"/><circle cx="183.59" cy="276.60" r="2.3" fill="#46ffb1"/><circle cx="177.13" cy="284.25" r="2.3" fill="#46ffb1"/><circle cx="150.10" cy="302.38" r="2.3" fill="#46ffb1"/><circle cx="152.21" cy="310.17" r="2.3" fill="#46ffb1"/><circle cx="159.37" cy="304.90" r="2.3" fill="#49ffad"/><circle cx="139.56" cy="320.41" r="2.3" fill="#49ffad"/><circle cx="183.19" cy="276.21" r="2.3" fill="#49ffad"/><circle cx="168.80" cy="294.68" r="2.3" fill="#49ffad"/><circle cx="180.54" cy="275.68" r="2.3" fill="#49ffad"/><circle cx="174.05" cy="285.36" r="2.3" fill="#49ffad"/><circle cx="81.32" cy="360.77" r="2.3" fill="#49ffad"/><circle cx="91.42" cy="351.50" r="2.3" fill="#49ffad"/><circle cx="185.18" cy="278.97" r="2.3" fill="#49ffad"/><circle cx="199.22" cy="265.03" r="2.3" fill="#4dffaa"/><circle cx="186.26" cy="271.89" r="2.3" fill="#4dffaa"/><circle cx="204.97" cy="263.53" r="2.3" fill="#4dffaa"/><circle cx="196.59" cy="271.05" r="2.3" fill="#4dffaa"/><circle cx="176.91" cy="285.57" r="2.3" fill="#4dffaa"/><circle cx="164.41" cy="291.02" r="2.3" fill="#4dffaa"/><circle cx="137.76" cy="312.02" r="2.3" fill="#4dffaa"/><circle cx="173.24" cy="290.82" r="2.3" fill="#4dffaa"/><circle cx="180.76" cy="283.77" r="2.3" fill="#4dffaa"/><circle cx="184.70" cy="273.19" r="2.3" fill="#50ffa7"/><circle cx="198.26" cy="264.74" r="2.3" fill="#50ffa7"/><circle cx="145.66" cy="313.93" r="2.3" fill="#50ffa7"/><circle cx="195.24" cy="268.06" r="2.3" fill="#50ffa7"/><circle cx="191.24" cy="277.16" r="2.3" fill="#50ffa7"/><circle cx="189.62" cy="270.44" r="2.3" fill="#50ffa7"/><circle cx="177.48" cy="284.58" r="2.3" fill="#50ffa7"/><circle cx="184.27" cy="277.19" r="2.3" fill="#50ffa7"/><circle cx="190.95" cy="274.41" r="2.3" fill="#50ffa7"/><circle cx="176.55" cy="287.84" r="2.3" fill="#50ffa7"/><circle cx="172.50" cy="286.43" r="2.3" fill="#50ffa7"/><circle cx="181.70" cy="284.89" r="2.3" fill="#50ffa7"/><circle cx="184.00" cy="277.83" r="2.3" fill="#50ffa7"/><circle cx="190.58" cy="272.47" r="2.3" fill="#50ffa7"/><circle cx="126.74" cy="320.57" r="2.3" fill="#50ffa7"/><circle cx="113.68" cy="333.06" r="2.3" fill="#53ffa4"/><circle cx="94.09" cy="359.73" r="2.3" fill="#53ffa4"/><circle cx="194.16" cy="271.48" r="2.3" fill="#53ffa4"/><circle cx="182.43" cy="284.99" r="2.3" fill="#53ffa4"/><circle cx="103.26" cy="341.72" r="2.3" fill="#53ffa4"/><circle cx="207.20" cy="258.29" r="2.3" fill="#53ffa4"/><circle cx="153.01" cy="310.56" r="2.3" fill="#53ffa4"/><circle cx="168.57" cy="297.35" r="2.3" fill="#53ffa4"/><circle cx="79.60" cy="368.94" r="2.3" fill="#53ffa4"/><circle cx="143.73" cy="318.58" r="2.3" fill="#53ffa4"/><circle cx="172.93" cy="289.72" r="2.3" fill="#56ffa0"/><circle cx="176.73" cy="287.08" r="2.3" fill="#56ffa0"/><circle cx="191.39" cy="271.14" r="2.3" fill="#56ffa0"/><circle cx="166.91" cy="290.07" r="2.3" fill="#56ffa0"/><circle cx="155.16" cy="307.73" r="2.3" fill="#56ffa0"/><circle cx="181.10" cy="280.84" r="2.3" fill="#56ffa0"/><circle cx="73.68" cy="370.54" r="2.3" fill="#56ffa0"/><circle cx="146.18" cy="317.18" r="2.3" fill="#56ffa0"/><circle cx="172.61" cy="291.56" r="2.3" fill="#56ffa0"/><circle cx="135.00" cy="315.08" r="2.3" fill="#56ffa0"/><circle cx="182.58" cy="277.41" r="2.3" fill="#56ffa0"/><circle cx="161.93" cy="292.90" r="2.3" fill="#56ffa0"/><circle cx="161.19" cy="296.02" r="2.3" fill="#5aff9d"/><circle cx="74.24" cy="368.00" r="2.3" fill="#5aff9d"/><circle cx="182.40" cy="284.64" r="2.3" fill="#5aff9d"/><circle cx="134.54" cy="315.00" r="2.3" fill="#5aff9d"/><circle cx="159.20" cy="293.97" r="2.3" fill="#5aff9d"/><circle cx="190.01" cy="274.29" r="2.3" fill="#5aff9d"/><circle cx="158.92" cy="304.06" r="2.3" fill="#5aff9d"/><circle cx="187.61" cy="270.28" r="2.3" fill="#5aff9d"/><circle cx="147.37" cy="305.69" r="2.3" fill="#5aff9d"/><circle cx="173.16" cy="292.25" r="2.3" fill="#5aff9d"/><circle cx="167.70" cy="288.41" r="2.3" fill="#5aff9d"/><circle cx="161.74" cy="291.78" r="2.3" fill="#5aff9d"/><circle cx="74.48" cy="370.06" r="2.3" fill="#5aff9d"/><circle cx="186.03" cy="276.99" r="2.3" fill="#5aff9d"/><circle cx="173.88" cy="282.58" r="2.3" fill="#5aff9d"/><circle cx="199.73" cy="265.02" r="2.3" fill="#5dff9a"/><circle cx="179.86" cy="282.07" r="2.3" fill="#5dff9a"/><circle cx="178.25" cy="279.70" r="2.3" fill="#5dff9a"/><circle cx="191.78" cy="275.08" r="2.3" fill="#5dff9a"/><circle cx="182.32" cy="281.58" r="2.3" fill="#60ff97"/><circle cx="210.92" cy="254.65" r="2.3" fill="#60ff97"/><circle cx="141.03" cy="310.39" r="2.3" fill="#60ff97"/><circle cx="110.84" cy="335.74" r="2.3" fill="#60ff97"/><circle cx="201.56" cy="262.08" r="2.3" fill="#60ff97"/><circle cx="125.88" cy="322.50" r="2.3" fill="#60ff97"/><circle cx="189.47" cy="273.57" r="2.3" fill="#63ff94"/><circle cx="180.71" cy="283.34" r="2.3" fill="#63ff94"/><circle cx="178.95" cy="284.80" r="2.3" fill="#63ff94"/><circle cx="168.70" cy="295.89" r="2.3" fill="#63ff94"/><circle cx="198.19" cy="265.74" r="2.3" fill="#63ff94"/><circle cx="185.08" cy="278.23" r="2.3" fill="#63ff94"/><circle cx="137.30" cy="312.34" r="2.3" fill="#63ff94"/><circle cx="117.80" cy="328.24" r="2.3" fill="#63ff94"/><circle cx="167.52" cy="288.54" r="2.3" fill="#63ff94"/><circle cx="185.90" cy="276.65" r="2.3" fill="#63ff94"/><circle cx="105.69" cy="349.58" r="2.3" fill="#63ff94"/><circle cx="176.77" cy="282.23" r="2.3" fill="#63ff94"/><circle cx="169.91" cy="286.34" r="2.3" fill="#63ff94"/><circle cx="126.24" cy="322.02" r="2.3" fill="#63ff94"/><circle cx="121.04" cy="335.59" r="2.3" fill="#63ff94"/><circle cx="167.26" cy="288.07" r="2.3" fill="#66ff90"/><circle cx="175.28" cy="283.75" r="2.3" fill="#66ff90"/><circle cx="191.00" cy="273.86" r="2.3" fill="#66ff90"/><circle cx="179.50" cy="285.07" r="2.3" fill="#66ff90"/><circle cx="122.80" cy="335.52" r="2.3" fill="#66ff90"/><circle cx="92.98" cy="349.74" r="2.3" fill="#66ff90"/><circle cx="121.20" cy="337.54" r="2.3" fill="#66ff90"/><circle cx="183.51" cy="277.79" r="2.3" fill="#66ff90"/><circle cx="191.07" cy="273.85" r="2.3" fill="#66ff90"/><circle cx="191.95" cy="271.59" r="2.3" fill="#66ff90"/><circle cx="184.12" cy="277.39" r="2.3" fill="#66ff90"/><circle cx="99.76" cy="345.76" r="2.3" fill="#66ff90"/><circle cx="165.73" cy="294.07" r="2.3" fill="#66ff90"/><circle cx="162.24" cy="303.11" r="2.3" fill="#66ff90"/><circle cx="151.17" cy="302.05" r="2.3" fill="#66ff90"/><circle cx="177.50" cy="282.65" r="2.3" fill="#66ff90"/><circle cx="172.17" cy="289.98" r="2.3" fill="#6aff8d"/><circle cx="154.56" cy="299.83" r="2.3" fill="#6aff8d"/><circle cx="185.03" cy="277.50" r="2.3" fill="#6aff8d"/><circle cx="178.60" cy="280.80" r="2.3" fill="#6aff8d"/><circle cx="180.93" cy="283.97" r="2.3" fill="#6aff8d"/><circle cx="173.93" cy="283.27" r="2.3" fill="#6aff8d"/><circle cx="172.68" cy="293.81" r="2.3" fill="#6aff8d"/><circle cx="160.68" cy="296.97" r="2.3" fill="#6aff8d"/><circle cx="158.91" cy="300.89" r="2.3" fill="#6aff8d"/><circle cx="76.91" cy="366.94" r="2.3" fill="#6aff8d"/><circle cx="194.67" cy="270.74" r="2.3" fill="#6aff8d"/><circle cx="182.27" cy="285.00" r="2.3" fill="#6aff8d"/><circle cx="161.89" cy="294.99" r="2.3" fill="#6aff8d"/><circle cx="190.56" cy="270.54" r="2.3" fill="#6dff8a"/><circle cx="161.73" cy="293.45" r="2.3" fill="#6dff8a"/><circle cx="156.05" cy="307.82" r="2.3" fill="#6dff8a"/><circle cx="156.57" cy="306.90" r="2.3" fill="#6dff8a"/><circle cx="179.23" cy="283.25" r="2.3" fill="#6dff8a"/><circle cx="191.46" cy="272.08" r="2.3" fill="#6dff8a"/><circle cx="103.71" cy="340.62" r="2.3" fill="#6dff8a"/><circle cx="170.16" cy="294.30" r="2.3" fill="#6dff8a"/><circle cx="158.35" cy="297.71" r="2.3" fill="#6dff8a"/><circle cx="129.11" cy="320.86" r="2.3" fill="#6dff8a"/><circle cx="156.11" cy="299.71" r="2.3" fill="#6dff8a"/><circle cx="150.46" cy="311.59" r="2.3" fill="#6dff8a"/><circle cx="75.12" cy="370.86" r="2.3" fill="#6dff8a"/><circle cx="166.04" cy="300.11" r="2.3" fill="#70ff87"/><circle cx="157.06" cy="303.16" r="2.3" fill="#70ff87"/><circle cx="172.73" cy="285.60" r="2.3" fill="#70ff87"/><circle cx="91.58" cy="351.48" r="2.3" fill="#70ff87"/><circle cx="103.69" cy="340.79" r="2.3" fill="#70ff87"/><circle cx="189.73" cy="275.80" r="2.3" fill="#70ff87"/><circle cx="166.28" cy="296.72" r="2.3" fill="#70ff87"/><circle cx="75.86" cy="369.09" r="2.3" fill="#70ff87"/><circle cx="168.33" cy="288.28" r="2.3" fill="#70ff87"/><circle cx="155.66" cy="299.06" r="2.3" fill="#70ff87"/><circle cx="168.57" cy="296.77" r="2.3" fill="#70ff87"/><circle cx="151.93" cy="310.73" r="2.3" fill="#73ff83"/><circle cx="161.18" cy="303.89" r="2.3" fill="#73ff83"/><circle cx="166.98" cy="295.68" r="2.3" fill="#73ff83"/><circle cx="175.49" cy="281.38" r="2.3" fill="#73ff83"/><circle cx="205.71" cy="260.41" r="2.3" fill="#73ff83"/><circle cx="139.62" cy="311.08" r="2.3" fill="#73ff83"/><circle cx="141.31" cy="319.72" r="2.3" fill="#73ff83"/><circle cx="134.90" cy="314.41" r="2.3" fill="#73ff83"/><circle cx="169.23" cy="288.11" r="2.3" fill="#73ff83"/><circle cx="152.82" cy="302.43" r="2.3" fill="#77ff80"/><circle cx="155.60" cy="306.56" r="2.3" fill="#77ff80"/><circle cx="81.70" cy="366.18" r="2.3" fill="#77ff80"/><circle cx="169.97" cy="288.73" r="2.3" fill="#77ff80"/><circle cx="163.16" cy="293.79" r="2.3" fill="#77ff80"/><circle cx="151.29" cy="310.21" r="2.3" fill="#77ff80"/><circle cx="138.85" cy="311.69" r="2.3" fill="#77ff80"/><circle cx="195.86" cy="268.81" r="2.3" fill="#77ff80"/><circle cx="160.65" cy="301.54" r="2.3" fill="#77ff80"/><circle cx="180.77" cy="282.76" r="2.3" fill="#77ff80"/><circle cx="163.71" cy="295.33" r="2.3" fill="#77ff80"/><circle cx="121.01" cy="327.86" r="2.3" fill="#77ff80"/><circle cx="163.69" cy="299.27" r="2.3" fill="#77ff80"/><circle cx="173.74" cy="287.92" r="2.3" fill="#7aff7d"/><circle cx="119.91" cy="328.71" r="2.3" fill="#7aff7d"/><circle cx="202.52" cy="263.35" r="2.3" fill="#7aff7d"/><circle cx="168.00" cy="295.85" r="2.3" fill="#7aff7d"/><circle cx="177.50" cy="287.84" r="2.3" fill="#7aff7d"/><circle cx="153.03" cy="308.11" r="2.3" fill="#7aff7d"/><circle cx="149.37" cy="306.41" r="2.3" fill="#7aff7d"/><circle cx="118.64" cy="328.64" r="2.3" fill="#7aff7d"/><circle cx="180.57" cy="280.56" r="2.3" fill="#7aff7d"/><circle cx="121.06" cy="327.78" r="2.3" fill="#7aff7d"/><circle cx="150.13" cy="310.77" r="2.3" fill="#7dff7a"/><circle cx="128.67" cy="329.46" r="2.3" fill="#7dff7a"/><circle cx="153.10" cy="301.33" r="2.3" fill="#7dff7a"/><circle cx="173.16" cy="284.73" r="2.3" fill="#7dff7a"/><circle cx="179.28" cy="279.68" r="2.3" fill="#7dff7a"/><circle cx="154.69" cy="306.62" r="2.3" fill="#7dff7a"/><circle cx="164.54" cy="291.08" r="2.3" fill="#7dff7a"/><circle cx="182.31" cy="279.66" r="2.3" fill="#7dff7a"/><circle cx="189.85" cy="273.28" r="2.3" fill="#7dff7a"/><circle cx="148.30" cy="306.45" r="2.3" fill="#7dff7a"/><circle cx="154.19" cy="302.28" r="2.3" fill="#7dff7a"/><circle cx="168.54" cy="289.43" r="2.3" fill="#7dff7a"/><circle cx="117.34" cy="339.93" r="2.3" fill="#7dff7a"/><circle cx="123.41" cy="325.43" r="2.3" fill="#7dff7a"/><circle cx="178.67" cy="283.54" r="2.3" fill="#7dff7a"/><circle cx="83.32" cy="364.99" r="2.3" fill="#7dff7a"/><circle cx="158.11" cy="303.75" r="2.3" fill="#80ff77"/><circle cx="179.86" cy="280.13" r="2.3" fill="#80ff77"/><circle cx="139.53" cy="311.27" r="2.3" fill="#80ff77"/><circle cx="189.30" cy="271.71" r="2.3" fill="#80ff77"/><circle cx="137.09" cy="322.68" r="2.3" fill="#80ff77"/><circle cx="75.14" cy="369.65" r="2.3" fill="#80ff77"/><circle cx="172.75" cy="291.76" r="2.3" fill="#80ff77"/><circle cx="153.59" cy="307.25" r="2.3" fill="#80ff77"/><circle cx="181.11" cy="280.47" r="2.3" fill="#80ff77"/><circle cx="153.55" cy="300.94" r="2.3" fill="#80ff77"/><circle cx="147.73" cy="313.03" r="2.3" fill="#80ff77"/><circle cx="169.48" cy="295.91" r="2.3" fill="#83ff73"/><circle cx="153.62" cy="306.87" r="2.3" fill="#83ff73"/><circle cx="111.60" cy="338.42" r="2.3" fill="#83ff73"/><circle cx="102.38" cy="342.35" r="2.3" fill="#83ff73"/><circle cx="192.03" cy="272.75" r="2.3" fill="#83ff73"/><circle cx="182.86" cy="276.42" r="2.3" fill="#83ff73"/><circle cx="123.50" cy="333.76" r="2.3" fill="#83ff73"/><circle cx="137.96" cy="317.96" r="2.3" fill="#83ff73"/><circle cx="178.20" cy="285.34" r="2.3" fill="#83ff73"/><circle cx="101.32" cy="349.36" r="2.3" fill="#83ff73"/><circle cx="154.22" cy="307.71" r="2.3" fill="#83ff73"/><circle cx="186.14" cy="278.81" r="2.3" fill="#83ff73"/><circle cx="187.79" cy="277.66" r="2.3" fill="#83ff73"/><circle cx="190.66" cy="274.18" r="2.3" fill="#83ff73"/><circle cx="158.63" cy="298.44" r="2.3" fill="#83ff73"/><circle cx="116.40" cy="331.50" r="2.3" fill="#87ff70"/><circle cx="170.19" cy="290.59" r="2.3" fill="#87ff70"/><circle cx="171.32" cy="286.99" r="2.3" fill="#87ff70"/><circle cx="152.57" cy="308.14" r="2.3" fill="#87ff70"/><circle cx="140.85" cy="319.99" r="2.3" fill="#87ff70"/><circle cx="98.05" cy="347.15" r="2.3" fill="#87ff70"/><circle cx="169.06" cy="286.51" r="2.3" fill="#87ff70"/><circle cx="176.91" cy="283.73" r="2.3" fill="#87ff70"/><circle cx="161.70" cy="299.80" r="2.3" fill="#87ff70"/><circle cx="105.01" cy="349.43" r="2.3" fill="#87ff70"/><circle cx="168.56" cy="287.29" r="2.3" fill="#8aff6d"/><circle cx="92.86" cy="351.97" r="2.3" fill="#8aff6d"/><circle cx="170.88" cy="288.49" r="2.3" fill="#8aff6d"/><circle cx="183.34" cy="282.22" r="2.3" fill="#8aff6d"/><circle cx="167.25" cy="290.50" r="2.3" fill="#8aff6d"/><circle cx="120.88" cy="335.77" r="2.3" fill="#8aff6d"/><circle cx="183.56" cy="275.87" r="2.3" fill="#8aff6d"/><circle cx="88.78" cy="354.44" r="2.3" fill="#8aff6d"/><circle cx="175.60" cy="290.15" r="2.3" fill="#8dff6a"/><circle cx="175.95" cy="285.59" r="2.3" fill="#8dff6a"/><circle cx="140.52" cy="312.30" r="2.3" fill="#8dff6a"/><circle cx="158.42" cy="297.97" r="2.3" fill="#8dff6a"/><circle cx="186.49" cy="278.49" r="2.3" fill="#8dff6a"/><circle cx="117.04" cy="329.87" r="2.3" fill="#8dff6a"/><circle cx="99.03" cy="346.15" r="2.3" fill="#8dff6a"/><circle cx="92.56" cy="356.44" r="2.3" fill="#8dff6a"/><circle cx="145.30" cy="306.44" r="2.3" fill="#8dff6a"/><circle cx="168.90" cy="290.31" r="2.3" fill="#8dff6a"/><circle cx="181.14" cy="278.93" r="2.3" fill="#8dff6a"/><circle cx="109.12" cy="336.62" r="2.3" fill="#90ff66"/><circle cx="160.82" cy="301.25" r="2.3" fill="#90ff66"/><circle cx="162.02" cy="299.70" r="2.3" fill="#90ff66"/><circle cx="155.22" cy="305.57" r="2.3" fill="#90ff66"/><circle cx="108.96" cy="338.43" r="2.3" fill="#90ff66"/><circle cx="184.10" cy="277.17" r="2.3" fill="#90ff66"/><circle cx="169.44" cy="289.84" r="2.3" fill="#90ff66"/><circle cx="170.84" cy="292.60" r="2.3" fill="#90ff66"/><circle cx="115.35" cy="341.60" r="2.3" fill="#90ff66"/><circle cx="148.88" cy="306.18" r="2.3" fill="#94ff63"/><circle cx="150.89" cy="311.07" r="2.3" fill="#94ff63"/><circle cx="87.53" cy="363.15" r="2.3" fill="#94ff63"/><circle cx="171.47" cy="286.39" r="2.3" fill="#94ff63"/><circle cx="89.23" cy="354.54" r="2.3" fill="#94ff63"/><circle cx="188.57" cy="274.95" r="2.3" fill="#94ff63"/><circle cx="159.87" cy="299.18" r="2.3" fill="#94ff63"/><circle cx="165.97" cy="292.47" r="2.3" fill="#94ff63"/><circle cx="94.53" cy="348.70" r="2.3" fill="#97ff60"/><circle cx="149.17" cy="309.01" r="2.3" fill="#97ff60"/><circle cx="168.05" cy="294.94" r="2.3" fill="#97ff60"/><circle cx="131.70" cy="326.77" r="2.3" fill="#97ff60"/><circle cx="156.29" cy="305.94" r="2.3" fill="#97ff60"/><circle cx="91.92" cy="360.26" r="2.3" fill="#97ff60"/><circle cx="146.14" cy="314.03" r="2.3" fill="#97ff60"/><circle cx="90.05" cy="360.68" r="2.3" fill="#97ff60"/><circle cx="92.51" cy="358.55" r="2.3" fill="#97ff60"/><circle cx="177.66" cy="288.47" r="2.3" fill="#97ff60"/><circle cx="113.73" cy="342.24" r="2.3" fill="#9aff5d"/><circle cx="92.48" cy="360.67" r="2.3" fill="#9aff5d"/><circle cx="166.98" cy="292.31" r="2.3" fill="#9aff5d"/><circle cx="177.90" cy="282.94" r="2.3" fill="#9aff5d"/><circle cx="165.35" cy="291.85" r="2.3" fill="#9aff5d"/><circle cx="157.39" cy="304.75" r="2.3" fill="#9aff5d"/><circle cx="162.41" cy="298.73" r="2.3" fill="#9aff5d"/><circle cx="175.67" cy="282.78" r="2.3" fill="#9dff5a"/><circle cx="159.88" cy="295.46" r="2.3" fill="#9dff5a"/><circle cx="134.53" cy="315.11" r="2.3" fill="#9dff5a"/><circle cx="116.39" cy="338.09" r="2.3" fill="#9dff5a"/><circle cx="152.43" cy="306.74" r="2.3" fill="#9dff5a"/><circle cx="149.79" cy="305.01" r="2.3" fill="#9dff5a"/><circle cx="165.46" cy="291.09" r="2.3" fill="#a0ff56"/><circle cx="94.71" cy="354.93" r="2.3" fill="#a0ff56"/><circle cx="110.01" cy="345.61" r="2.3" fill="#a0ff56"/><circle cx="174.69" cy="284.05" r="2.3" fill="#a0ff56"/><circle cx="148.39" cy="312.41" r="2.3" fill="#a0ff56"/><circle cx="103.78" cy="350.34" r="2.3" fill="#a0ff56"/><circle cx="82.33" cy="366.15" r="2.3" fill="#a0ff56"/><circle cx="76.07" cy="367.60" r="2.3" fill="#a0ff56"/><circle cx="131.87" cy="326.86" r="2.3" fill="#a0ff56"/><circle cx="126.72" cy="322.05" r="2.3" fill="#a0ff56"/><circle cx="136.01" cy="316.68" r="2.3" fill="#a4ff53"/><circle cx="148.36" cy="306.55" r="2.3" fill="#a4ff53"/><circle cx="145.23" cy="313.94" r="2.3" fill="#a4ff53"/><circle cx="194.29" cy="268.59" r="2.3" fill="#a4ff53"/><circle cx="152.00" cy="301.95" r="2.3" fill="#a4ff53"/><circle cx="78.36" cy="366.99" r="2.3" fill="#a4ff53"/><circle cx="159.12" cy="303.86" r="2.3" fill="#a4ff53"/><circle cx="133.03" cy="324.72" r="2.3" fill="#a4ff53"/><circle cx="149.16" cy="306.08" r="2.3" fill="#a4ff53"/><circle cx="148.38" cy="305.84" r="2.3" fill="#a4ff53"/><circle cx="173.93" cy="288.44" r="2.3" fill="#a7ff50"/><circle cx="142.59" cy="317.39" r="2.3" fill="#a7ff50"/><circle cx="168.19" cy="292.64" r="2.3" fill="#a7ff50"/><circle cx="137.52" cy="313.64" r="2.3" fill="#a7ff50"/><circle cx="133.73" cy="316.07" r="2.3" fill="#a7ff50"/><circle cx="75.83" cy="369.45" r="2.3" fill="#a7ff50"/><circle cx="169.74" cy="291.55" r="2.3" fill="#a7ff50"/><circle cx="168.44" cy="290.02" r="2.3" fill="#a7ff50"/><circle cx="154.49" cy="304.87" r="2.3" fill="#a7ff50"/><circle cx="180.05" cy="280.00" r="2.3" fill="#aaff4d"/><circle cx="155.08" cy="300.90" r="2.3" fill="#aaff4d"/><circle cx="162.76" cy="293.10" r="2.3" fill="#aaff4d"/><circle cx="81.57" cy="365.80" r="2.3" fill="#aaff4d"/><circle cx="168.15" cy="288.56" r="2.3" fill="#aaff4d"/><circle cx="160.25" cy="303.07" r="2.3" fill="#aaff4d"/><circle cx="146.77" cy="312.33" r="2.3" fill="#aaff4d"/><circle cx="159.22" cy="299.61" r="2.3" fill="#aaff4d"/><circle cx="175.77" cy="283.38" r="2.3" fill="#aaff4d"/><circle cx="168.16" cy="293.78" r="2.3" fill="#aaff4d"/><circle cx="177.32" cy="283.53" r="2.3" fill="#adff49"/><circle cx="132.84" cy="318.24" r="2.3" fill="#adff49"/><circle cx="79.56" cy="366.29" r="2.3" fill="#adff49"/><circle cx="184.52" cy="275.57" r="2.3" fill="#adff49"/><circle cx="168.89" cy="288.36" r="2.3" fill="#adff49"/><circle cx="159.44" cy="299.07" r="2.3" fill="#adff49"/><circle cx="150.43" cy="304.92" r="2.3" fill="#adff49"/><circle cx="82.21" cy="365.60" r="2.3" fill="#b1ff46"/><circle cx="149.62" cy="305.21" r="2.3" fill="#b1ff46"/><circle cx="133.98" cy="324.82" r="2.3" fill="#b1ff46"/><circle cx="142.42" cy="309.81" r="2.3" fill="#b1ff46"/><circle cx="154.80" cy="303.11" r="2.3" fill="#b1ff46"/><circle cx="75.77" cy="369.29" r="2.3" fill="#b1ff46"/><circle cx="170.17" cy="290.61" r="2.3" fill="#b1ff46"/><circle cx="125.60" cy="329.32" r="2.3" fill="#b4ff43"/><circle cx="134.48" cy="323.61" r="2.3" fill="#b4ff43"/><circle cx="182.17" cy="280.83" r="2.3" fill="#b4ff43"/><circle cx="164.18" cy="292.76" r="2.3" fill="#b4ff43"/><circle cx="88.48" cy="361.72" r="2.3" fill="#b4ff43"/><circle cx="163.53" cy="294.82" r="2.3" fill="#b4ff43"/><circle cx="77.02" cy="369.31" r="2.3" fill="#b4ff43"/><circle cx="158.85" cy="301.47" r="2.3" fill="#b4ff43"/><circle cx="131.15" cy="324.93" r="2.3" fill="#b4ff43"/><circle cx="147.19" cy="314.80" r="2.3" fill="#b4ff43"/><circle cx="161.89" cy="297.55" r="2.3" fill="#b7ff40"/><circle cx="174.73" cy="283.88" r="2.3" fill="#b7ff40"/><circle cx="128.35" cy="323.40" r="2.3" fill="#b7ff40"/><circle cx="120.06" cy="327.37" r="2.3" fill="#b7ff40"/><circle cx="178.47" cy="282.92" r="2.3" fill="#b7ff40"/><circle cx="76.94" cy="368.08" r="2.3" fill="#b7ff40"/><circle cx="135.49" cy="323.37" r="2.3" fill="#b7ff40"/><circle cx="165.26" cy="294.52" r="2.3" fill="#b7ff40"/><circle cx="156.88" cy="299.52" r="2.3" fill="#b7ff40"/><circle cx="157.57" cy="297.62" r="2.3" fill="#b7ff40"/><circle cx="169.89" cy="289.39" r="2.3" fill="#b7ff40"/><circle cx="148.45" cy="306.75" r="2.3" fill="#b7ff40"/><circle cx="119.85" cy="331.24" r="2.3" fill="#b7ff40"/><circle cx="85.37" cy="364.21" r="2.3" fill="#b7ff40"/><circle cx="154.33" cy="304.64" r="2.3" fill="#b7ff40"/><circle cx="151.06" cy="308.39" r="2.3" fill="#baff3c"/><circle cx="109.43" cy="344.64" r="2.3" fill="#baff3c"/><circle cx="108.84" cy="344.47" r="2.3" fill="#baff3c"/><circle cx="117.06" cy="340.31" r="2.3" fill="#baff3c"/><circle cx="140.20" cy="318.41" r="2.3" fill="#baff3c"/><circle cx="161.15" cy="299.20" r="2.3" fill="#baff3c"/><circle cx="77.97" cy="366.11" r="2.3" fill="#baff3c"/><circle cx="182.29" cy="279.71" r="2.3" fill="#baff3c"/><circle cx="177.37" cy="285.26" r="2.3" fill="#beff39"/><circle cx="102.71" cy="344.04" r="2.3" fill="#beff39"/><circle cx="114.11" cy="341.70" r="2.3" fill="#beff39"/><circle cx="154.45" cy="302.93" r="2.3" fill="#beff39"/><circle cx="168.08" cy="290.07" r="2.3" fill="#beff39"/><circle cx="104.42" cy="341.55" r="2.3" fill="#beff39"/><circle cx="137.48" cy="323.15" r="2.3" fill="#beff39"/><circle cx="99.65" cy="353.61" r="2.3" fill="#beff39"/><circle cx="145.71" cy="310.53" r="2.3" fill="#beff39"/><circle cx="168.67" cy="291.94" r="2.3" fill="#beff39"/><circle cx="104.64" cy="349.82" r="2.3" fill="#beff39"/><circle cx="170.11" cy="293.37" r="2.3" fill="#beff39"/><circle cx="154.47" cy="303.08" r="2.3" fill="#c1ff36"/><circle cx="82.04" cy="364.56" r="2.3" fill="#c1ff36"/><circle cx="79.78" cy="367.43" r="2.3" fill="#c1ff36"/><circle cx="157.88" cy="302.39" r="2.3" fill="#c1ff36"/><circle cx="120.44" cy="332.38" r="2.3" fill="#c1ff36"/><circle cx="162.43" cy="298.29" r="2.3" fill="#c4ff33"/><circle cx="92.73" cy="359.35" r="2.3" fill="#c4ff33"/><circle cx="106.92" cy="347.97" r="2.3" fill="#c4ff33"/><circle cx="108.36" cy="341.62" r="2.3" fill="#c4ff33"/><circle cx="93.51" cy="357.93" r="2.3" fill="#c4ff33"/><circle cx="171.89" cy="287.57" r="2.3" fill="#c4ff33"/><circle cx="181.70" cy="282.00" r="2.3" fill="#c4ff33"/><circle cx="142.34" cy="310.03" r="2.3" fill="#c7ff30"/><circle cx="94.21" cy="357.33" r="2.3" fill="#c7ff30"/><circle cx="150.33" cy="304.94" r="2.3" fill="#c7ff30"/><circle cx="155.25" cy="301.97" r="2.3" fill="#c7ff30"/><circle cx="182.11" cy="281.57" r="2.3" fill="#c7ff30"/><circle cx="122.26" cy="334.25" r="2.3" fill="#c7ff30"/><circle cx="141.47" cy="310.94" r="2.3" fill="#c7ff30"/><circle cx="86.17" cy="357.51" r="2.3" fill="#c7ff30"/><circle cx="124.05" cy="333.20" r="2.3" fill="#caff2c"/><circle cx="117.17" cy="335.65" r="2.3" fill="#caff2c"/><circle cx="167.19" cy="292.38" r="2.3" fill="#caff2c"/><circle cx="98.29" cy="354.19" r="2.3" fill="#caff2c"/><circle cx="105.38" cy="348.22" r="2.3" fill="#caff2c"/><circle cx="172.29" cy="288.81" r="2.3" fill="#caff2c"/><circle cx="77.91" cy="365.84" r="2.3" fill="#caff2c"/><circle cx="99.64" cy="352.76" r="2.3" fill="#caff2c"/><circle cx="93.32" cy="356.06" r="2.3" fill="#caff2c"/><circle cx="153.37" cy="307.84" r="2.3" fill="#caff2c"/><circle cx="112.05" cy="340.15" r="2.3" fill="#caff2c"/><circle cx="173.56" cy="288.63" r="2.3" fill="#caff2c"/><circle cx="124.04" cy="327.12" r="2.3" fill="#caff2c"/><circle cx="115.84" cy="332.12" r="2.3" fill="#caff2c"/><circle cx="79.52" cy="362.86" r="2.3" fill="#caff2c"/><circle cx="168.60" cy="294.32" r="2.3" fill="#ceff29"/><circle cx="78.77" cy="366.39" r="2.3" fill="#ceff29"/><circle cx="133.70" cy="317.36" r="2.3" fill="#ceff29"/><circle cx="132.38" cy="324.60" r="2.3" fill="#ceff29"/><circle cx="155.17" cy="304.30" r="2.3" fill="#ceff29"/><circle cx="138.52" cy="318.66" r="2.3" fill="#ceff29"/><circle cx="137.70" cy="317.09" r="2.3" fill="#d1ff26"/><circle cx="93.23" cy="358.45" r="2.3" fill="#d1ff26"/><circle cx="150.33" cy="305.01" r="2.3" fill="#d1ff26"/><circle cx="142.41" cy="309.60" r="2.3" fill="#d1ff26"/><circle cx="92.76" cy="358.84" r="2.3" fill="#d1ff26"/><circle cx="167.35" cy="292.67" r="2.3" fill="#d1ff26"/><circle cx="78.60" cy="364.94" r="2.3" fill="#d1ff26"/><circle cx="77.75" cy="367.28" r="2.3" fill="#d4ff23"/><circle cx="166.95" cy="292.75" r="2.3" fill="#d4ff23"/><circle cx="173.65" cy="289.60" r="2.3" fill="#d4ff23"/><circle cx="148.90" cy="305.79" r="2.3" fill="#d4ff23"/><circle cx="178.31" cy="284.48" r="2.3" fill="#d4ff23"/><circle cx="153.02" cy="302.96" r="2.3" fill="#d4ff23"/><circle cx="140.21" cy="312.45" r="2.3" fill="#d4ff23"/><circle cx="145.53" cy="313.59" r="2.3" fill="#d7ff1f"/><circle cx="104.99" cy="344.65" r="2.3" fill="#d7ff1f"/><circle cx="148.75" cy="307.49" r="2.3" fill="#d7ff1f"/><circle cx="127.94" cy="322.69" r="2.3" fill="#d7ff1f"/><circle cx="119.12" cy="336.94" r="2.3" fill="#d7ff1f"/><circle cx="132.74" cy="318.78" r="2.3" fill="#d7ff1f"/><circle cx="163.35" cy="297.89" r="2.3" fill="#d7ff1f"/><circle cx="88.28" cy="359.47" r="2.3" fill="#d7ff1f"/><circle cx="97.32" cy="354.11" r="2.3" fill="#d7ff1f"/><circle cx="131.08" cy="326.94" r="2.3" fill="#d7ff1f"/><circle cx="76.84" cy="367.74" r="2.3" fill="#d7ff1f"/><circle cx="147.36" cy="309.96" r="2.3" fill="#d7ff1f"/><circle cx="118.11" cy="339.04" r="2.3" fill="#dbff1c"/><circle cx="114.85" cy="332.22" r="2.3" fill="#dbff1c"/><circle cx="159.33" cy="300.51" r="2.3" fill="#dbff1c"/><circle cx="127.63" cy="322.53" r="2.3" fill="#dbff1c"/><circle cx="104.89" cy="347.51" r="2.3" fill="#dbff1c"/><circle cx="151.73" cy="303.52" r="2.3" fill="#dbff1c"/><circle cx="127.85" cy="321.57" r="2.3" fill="#dbff1c"/><circle cx="189.65" cy="273.79" r="2.3" fill="#dbff1c"/><circle cx="107.32" cy="345.49" r="2.3" fill="#dbff1c"/><circle cx="147.86" cy="311.70" r="2.3" fill="#dbff1c"/><circle cx="101.00" cy="343.98" r="2.3" fill="#dbff1c"/><circle cx="150.97" cy="307.42" r="2.3" fill="#dbff1c"/><circle cx="88.82" cy="360.51" r="2.3" fill="#dbff1c"/><circle cx="92.65" cy="352.77" r="2.3" fill="#deff19"/><circle cx="178.83" cy="281.69" r="2.3" fill="#deff19"/><circle cx="173.52" cy="290.37" r="2.3" fill="#deff19"/><circle cx="101.00" cy="350.78" r="2.3" fill="#deff19"/><circle cx="104.16" cy="342.88" r="2.3" fill="#deff19"/><circle cx="145.21" cy="315.49" r="2.3" fill="#deff19"/><circle cx="109.04" cy="339.38" r="2.3" fill="#deff19"/><circle cx="144.92" cy="314.76" r="2.3" fill="#deff19"/><circle cx="130.15" cy="326.54" r="2.3" fill="#e1ff16"/><circle cx="110.68" cy="344.30" r="2.3" fill="#e1ff16"/><circle cx="87.65" cy="361.32" r="2.3" fill="#e1ff16"/><circle cx="108.57" cy="345.74" r="2.3" fill="#e1ff16"/><circle cx="175.72" cy="284.66" r="2.3" fill="#e4ff13"/><circle cx="107.06" cy="344.13" r="2.3" fill="#e4ff13"/><circle cx="95.65" cy="356.08" r="2.3" fill="#e4ff13"/><circle cx="146.33" cy="307.11" r="2.3" fill="#e4ff13"/><circle cx="148.90" cy="305.88" r="2.3" fill="#e4ff13"/><circle cx="166.50" cy="291.44" r="2.3" fill="#e4ff13"/><circle cx="146.17" cy="314.24" r="2.3" fill="#e4ff13"/><circle cx="161.56" cy="300.39" r="2.3" fill="#e7ff0f"/><circle cx="131.01" cy="326.48" r="2.3" fill="#e7ff0f"/><circle cx="160.38" cy="300.26" r="2.3" fill="#e7ff0f"/><circle cx="159.35" cy="299.30" r="2.3" fill="#e7ff0f"/><circle cx="154.79" cy="301.74" r="2.3" fill="#ebff0c"/><circle cx="146.88" cy="308.32" r="2.3" fill="#ebff0c"/><circle cx="115.25" cy="335.07" r="2.3" fill="#ebff0c"/><circle cx="134.69" cy="318.01" r="2.3" fill="#ebff0c"/><circle cx="159.17" cy="301.88" r="2.3" fill="#ebff0c"/><circle cx="117.66" cy="333.57" r="2.3" fill="#ebff0c"/><circle cx="121.06" cy="331.55" r="2.3" fill="#eeff09"/><circle cx="139.08" cy="319.74" r="2.3" fill="#eeff09"/><circle cx="154.70" cy="303.17" r="2.3" fill="#eeff09"/><circle cx="98.45" cy="349.07" r="2.3" fill="#eeff09"/><circle cx="121.85" cy="333.90" r="2.3" fill="#eeff09"/><circle cx="110.70" cy="337.91" r="2.3" fill="#eeff09"/><circle cx="114.57" cy="339.53" r="2.3" fill="#eeff09"/><circle cx="88.18" cy="359.07" r="2.3" fill="#eeff09"/><circle cx="179.74" cy="280.67" r="2.3" fill="#eeff09"/><circle cx="130.84" cy="327.16" r="2.3" fill="#eeff09"/><circle cx="154.31" cy="305.34" r="2.3" fill="#eeff09"/><circle cx="152.53" cy="306.84" r="2.3" fill="#eeff09"/><circle cx="172.47" cy="288.71" r="2.3" fill="#eeff09"/><circle cx="90.22" cy="354.19" r="2.3" fill="#f1fc06"/><circle cx="102.47" cy="345.37" r="2.3" fill="#f1fc06"/><circle cx="117.77" cy="332.86" r="2.3" fill="#f1fc06"/><circle cx="116.85" cy="333.02" r="2.3" fill="#f1fc06"/><circle cx="145.35" cy="313.86" r="2.3" fill="#f1fc06"/><circle cx="136.83" cy="316.70" r="2.3" fill="#f1fc06"/><circle cx="159.37" cy="297.91" r="2.3" fill="#f4f802"/><circle cx="87.35" cy="362.34" r="2.3" fill="#f4f802"/><circle cx="88.71" cy="362.09" r="2.3" fill="#f4f802"/><circle cx="110.20" cy="341.99" r="2.3" fill="#f4f802"/><circle cx="89.77" cy="359.59" r="2.3" fill="#f4f802"/><circle cx="161.02" cy="297.15" r="2.3" fill="#f4f802"/><circle cx="113.13" cy="341.66" r="2.3" fill="#f4f802"/><circle cx="147.36" cy="307.26" r="2.3" fill="#f4f802"/><circle cx="149.10" cy="308.82" r="2.3" fill="#f4f802"/><circle cx="101.43" cy="350.38" r="2.3" fill="#f4f802"/><circle cx="124.34" cy="329.62" r="2.3" fill="#f4f802"/><circle cx="142.29" cy="314.71" r="2.3" fill="#f8f500"/><circle cx="163.36" cy="295.29" r="2.3" fill="#f8f500"/><circle cx="150.46" cy="305.85" r="2.3" fill="#f8f500"/><circle cx="89.19" cy="359.50" r="2.3" fill="#f8f500"/><circle cx="127.42" cy="323.16" r="2.3" fill="#f8f500"/><circle cx="155.88" cy="302.08" r="2.3" fill="#f8f500"/><circle cx="121.30" cy="334.46" r="2.3" fill="#f8f500"/><circle cx="109.25" cy="339.91" r="2.3" fill="#f8f500"/><circle cx="164.76" cy="294.70" r="2.3" fill="#fbf100"/><circle cx="172.73" cy="288.19" r="2.3" fill="#fbf100"/><circle cx="121.55" cy="327.39" r="2.3" fill="#fbf100"/><circle cx="144.30" cy="311.86" r="2.3" fill="#fbf100"/><circle cx="137.67" cy="319.92" r="2.3" fill="#fbf100"/><circle cx="162.68" cy="293.99" r="2.3" fill="#fbf100"/><circle cx="87.20" cy="357.37" r="2.3" fill="#fbf100"/><circle cx="171.20" cy="289.90" r="2.3" fill="#feed00"/><circle cx="176.24" cy="282.57" r="2.3" fill="#feed00"/><circle cx="88.88" cy="358.03" r="2.3" fill="#feed00"/><circle cx="159.61" cy="299.54" r="2.3" fill="#feed00"/><circle cx="81.19" cy="365.92" r="2.3" fill="#feed00"/><circle cx="142.90" cy="310.81" r="2.3" fill="#feed00"/><circle cx="138.14" cy="320.35" r="2.3" fill="#feed00"/><circle cx="110.94" cy="340.92" r="2.3" fill="#feed00"/><circle cx="104.72" cy="341.48" r="2.3" fill="#feed00"/><circle cx="107.63" cy="345.86" r="2.3" fill="#feed00"/><circle cx="92.09" cy="356.59" r="2.3" fill="#feed00"/><circle cx="114.17" cy="340.38" r="2.3" fill="#feed00"/><circle cx="150.19" cy="306.27" r="2.3" fill="#feed00"/><circle cx="127.60" cy="325.12" r="2.3" fill="#feed00"/><circle cx="130.86" cy="326.49" r="2.3" fill="#ffea00"/><circle cx="136.25" cy="319.62" r="2.3" fill="#ffea00"/><circle cx="140.31" cy="317.01" r="2.3" fill="#ffea00"/><circle cx="108.89" cy="338.87" r="2.3" fill="#ffea00"/><circle cx="150.77" cy="304.74" r="2.3" fill="#ffea00"/><circle cx="155.85" cy="302.05" r="2.3" fill="#ffea00"/><circle cx="95.56" cy="355.75" r="2.3" fill="#ffea00"/><circle cx="95.27" cy="355.05" r="2.3" fill="#ffea00"/><circle cx="139.44" cy="316.39" r="2.3" fill="#ffe600"/><circle cx="86.68" cy="358.58" r="2.3" fill="#ffe600"/><circle cx="152.31" cy="303.47" r="2.3" fill="#ffe600"/><circle cx="141.30" cy="312.36" r="2.3" fill="#ffe600"/><circle cx="101.02" cy="346.40" r="2.3" fill="#ffe600"/><circle cx="117.56" cy="337.56" r="2.3" fill="#ffe600"/><circle cx="100.24" cy="353.26" r="2.3" fill="#ffe600"/><circle cx="106.82" cy="344.34" r="2.3" fill="#ffe200"/><circle cx="144.25" cy="309.36" r="2.3" fill="#ffe200"/><circle cx="115.03" cy="334.92" r="2.3" fill="#ffe200"/><circle cx="96.69" cy="353.68" r="2.3" fill="#ffde00"/><circle cx="155.85" cy="304.45" r="2.3" fill="#ffde00"/><circle cx="121.43" cy="332.82" r="2.3" fill="#ffde00"/><circle cx="122.93" cy="329.97" r="2.3" fill="#ffde00"/><circle cx="85.42" cy="363.90" r="2.3" fill="#ffde00"/><circle cx="124.86" cy="331.57" r="2.3" fill="#ffde00"/><circle cx="155.76" cy="301.43" r="2.3" fill="#ffdb00"/><circle cx="106.42" cy="341.83" r="2.3" fill="#ffdb00"/><circle cx="103.36" cy="343.90" r="2.3" fill="#ffdb00"/><circle cx="135.46" cy="319.64" r="2.3" fill="#ffdb00"/><circle cx="129.91" cy="327.50" r="2.3" fill="#ffdb00"/><circle cx="108.21" cy="341.40" r="2.3" fill="#ffdb00"/><circle cx="96.58" cy="353.13" r="2.3" fill="#ffdb00"/><circle cx="164.13" cy="299.24" r="2.3" fill="#ffdb00"/><circle cx="96.87" cy="348.02" r="2.3" fill="#ffd700"/><circle cx="131.62" cy="321.55" r="2.3" fill="#ffd700"/><circle cx="154.20" cy="304.69" r="2.3" fill="#ffd700"/><circle cx="116.60" cy="338.47" r="2.3" fill="#ffd700"/><circle cx="130.99" cy="326.41" r="2.3" fill="#ffd700"/><circle cx="151.90" cy="304.97" r="2.3" fill="#ffd700"/><circle cx="121.71" cy="333.35" r="2.3" fill="#ffd700"/><circle cx="95.23" cy="351.28" r="2.3" fill="#ffd700"/><circle cx="150.38" cy="307.12" r="2.3" fill="#ffd700"/><circle cx="152.02" cy="306.97" r="2.3" fill="#ffd700"/><circle cx="114.95" cy="335.96" r="2.3" fill="#ffd700"/><circle cx="142.52" cy="314.04" r="2.3" fill="#ffd300"/><circle cx="174.46" cy="287.22" r="2.3" fill="#ffd300"/><circle cx="153.28" cy="304.10" r="2.3" fill="#ffd300"/><circle cx="82.95" cy="364.21" r="2.3" fill="#ffd300"/><circle cx="85.26" cy="359.24" r="2.3" fill="#ffd300"/><circle cx="142.49" cy="310.61" r="2.3" fill="#ffd300"/><circle cx="125.84" cy="327.51" r="2.3" fill="#ffd000"/><circle cx="160.55" cy="297.64" r="2.3" fill="#ffd000"/><circle cx="158.43" cy="303.51" r="2.3" fill="#ffd000"/><circle cx="88.03" cy="360.50" r="2.3" fill="#ffd000"/><circle cx="113.94" cy="335.89" r="2.3" fill="#ffcc00"/><circle cx="108.18" cy="342.45" r="2.3" fill="#ffcc00"/><circle cx="117.77" cy="332.30" r="2.3" fill="#ffcc00"/><circle cx="141.39" cy="312.03" r="2.3" fill="#ffcc00"/><circle cx="114.64" cy="338.73" r="2.3" fill="#ffcc00"/><circle cx="170.65" cy="290.90" r="2.3" fill="#ffcc00"/><circle cx="146.67" cy="308.18" r="2.3" fill="#ffcc00"/><circle cx="117.33" cy="334.31" r="2.3" fill="#ffc800"/><circle cx="108.95" cy="344.46" r="2.3" fill="#ffc800"/><circle cx="109.22" cy="344.31" r="2.3" fill="#ffc800"/><circle cx="125.62" cy="325.15" r="2.3" fill="#ffc800"/><circle cx="133.72" cy="325.18" r="2.3" fill="#ffc400"/><circle cx="119.37" cy="331.52" r="2.3" fill="#ffc400"/><circle cx="158.57" cy="301.31" r="2.3" fill="#ffc400"/><circle cx="146.57" cy="311.23" r="2.3" fill="#ffc400"/><circle cx="136.61" cy="317.80" r="2.3" fill="#ffc100"/><circle cx="130.28" cy="321.95" r="2.3" fill="#ffc100"/><circle cx="106.05" cy="341.29" r="2.3" fill="#ffc100"/><circle cx="117.27" cy="334.84" r="2.3" fill="#ffc100"/><circle cx="142.85" cy="314.18" r="2.3" fill="#ffc100"/><circle cx="136.15" cy="317.91" r="2.3" fill="#ffc100"/><circle cx="87.53" cy="358.47" r="2.3" fill="#ffc100"/><circle cx="94.83" cy="351.51" r="2.3" fill="#ffc100"/><circle cx="133.64" cy="317.66" r="2.3" fill="#ffc100"/><circle cx="161.42" cy="298.19" r="2.3" fill="#ffbd00"/><circle cx="103.05" cy="345.63" r="2.3" fill="#ffbd00"/><circle cx="104.74" cy="342.21" r="2.3" fill="#ffb900"/><circle cx="119.66" cy="329.40" r="2.3" fill="#ffb900"/><circle cx="163.35" cy="295.61" r="2.3" fill="#ffb900"/><circle cx="138.74" cy="318.27" r="2.3" fill="#ffb900"/><circle cx="123.03" cy="332.67" r="2.3" fill="#ffb900"/><circle cx="125.01" cy="326.20" r="2.3" fill="#ffb900"/><circle cx="95.79" cy="351.81" r="2.3" fill="#ffb900"/><circle cx="137.70" cy="315.11" r="2.3" fill="#ffb600"/><circle cx="98.78" cy="347.03" r="2.3" fill="#ffb600"/><circle cx="100.67" cy="349.26" r="2.3" fill="#ffb600"/><circle cx="114.74" cy="333.60" r="2.3" fill="#ffb200"/><circle cx="130.41" cy="323.95" r="2.3" fill="#ffb200"/><circle cx="87.88" cy="359.90" r="2.3" fill="#ffb200"/><circle cx="99.97" cy="351.93" r="2.3" fill="#ffb200"/><circle cx="122.38" cy="329.53" r="2.3" fill="#ffb200"/><circle cx="90.65" cy="358.65" r="2.3" fill="#ffae00"/><circle cx="141.32" cy="314.03" r="2.3" fill="#ffae00"/><circle cx="138.84" cy="316.27" r="2.3" fill="#ffae00"/><circle cx="109.15" cy="339.78" r="2.3" fill="#ffae00"/><circle cx="110.73" cy="339.58" r="2.3" fill="#ffae00"/><circle cx="139.57" cy="315.04" r="2.3" fill="#ffae00"/><circle cx="100.15" cy="350.74" r="2.3" fill="#ffae00"/><circle cx="129.78" cy="321.70" r="2.3" fill="#ffab00"/><circle cx="135.91" cy="319.17" r="2.3" fill="#ffab00"/><circle cx="128.48" cy="327.74" r="2.3" fill="#ffab00"/><circle cx="135.37" cy="320.38" r="2.3" fill="#ffab00"/><circle cx="116.17" cy="334.05" r="2.3" fill="#ffab00"/><circle cx="151.13" cy="307.47" r="2.3" fill="#ffab00"/><circle cx="137.22" cy="318.03" r="2.3" fill="#ffab00"/><circle cx="115.70" cy="335.15" r="2.3" fill="#ffa700"/><circle cx="90.01" cy="359.17" r="2.3" fill="#ffa700"/><circle cx="151.22" cy="307.13" r="2.3" fill="#ffa700"/><circle cx="121.38" cy="332.27" r="2.3" fill="#ffa700"/><circle cx="145.18" cy="313.64" r="2.3" fill="#ffa700"/><circle cx="113.13" cy="340.67" r="2.3" fill="#ffa700"/><circle cx="130.22" cy="325.58" r="2.3" fill="#ffa700"/><circle cx="120.40" cy="329.95" r="2.3" fill="#ffa300"/><circle cx="108.79" cy="340.41" r="2.3" fill="#ffa300"/><circle cx="97.38" cy="350.32" r="2.3" fill="#ffa300"/><circle cx="142.73" cy="314.28" r="2.3" fill="#ffa300"/><circle cx="145.94" cy="313.91" r="2.3" fill="#ffa300"/><circle cx="94.28" cy="354.70" r="2.3" fill="#ffa300"/><circle cx="132.63" cy="323.03" r="2.3" fill="#ffa300"/><circle cx="133.71" cy="320.95" r="2.3" fill="#ffa300"/><circle cx="163.19" cy="295.96" r="2.3" fill="#ff9f00"/><circle cx="119.49" cy="335.34" r="2.3" fill="#ff9f00"/><circle cx="92.77" cy="356.87" r="2.3" fill="#ff9f00"/><circle cx="141.58" cy="313.71" r="2.3" fill="#ff9f00"/><circle cx="134.88" cy="316.62" r="2.3" fill="#ff9c00"/><circle cx="92.27" cy="357.34" r="2.3" fill="#ff9c00"/><circle cx="138.44" cy="318.02" r="2.3" fill="#ff9c00"/><circle cx="142.69" cy="315.69" r="2.3" fill="#ff9c00"/><circle cx="140.69" cy="316.61" r="2.3" fill="#ff9800"/><circle cx="131.40" cy="321.97" r="2.3" fill="#ff9800"/><circle cx="102.92" cy="348.31" r="2.3" fill="#ff9800"/><circle cx="110.01" cy="341.50" r="2.3" fill="#ff9800"/><circle cx="122.98" cy="328.17" r="2.3" fill="#ff9800"/><circle cx="130.03" cy="322.41" r="2.3" fill="#ff9800"/><circle cx="117.62" cy="334.50" r="2.3" fill="#ff9400"/><circle cx="139.34" cy="313.97" r="2.3" fill="#ff9100"/><circle cx="158.26" cy="301.24" r="2.3" fill="#ff9100"/><circle cx="125.04" cy="325.51" r="2.3" fill="#ff8d00"/><circle cx="131.73" cy="323.23" r="2.3" fill="#ff8d00"/><circle cx="87.79" cy="358.48" r="2.3" fill="#ff8d00"/><circle cx="86.39" cy="360.65" r="2.3" fill="#ff8d00"/><circle cx="122.10" cy="331.20" r="2.3" fill="#ff8d00"/><circle cx="108.36" cy="341.28" r="2.3" fill="#ff8900"/><circle cx="138.55" cy="315.01" r="2.3" fill="#ff8900"/><circle cx="126.03" cy="328.21" r="2.3" fill="#ff8900"/><circle cx="141.79" cy="314.68" r="2.3" fill="#ff8900"/><circle cx="119.96" cy="333.91" r="2.3" fill="#ff8900"/><circle cx="94.50" cy="354.36" r="2.3" fill="#ff8900"/><circle cx="128.68" cy="322.00" r="2.3" fill="#ff8600"/><circle cx="113.93" cy="335.84" r="2.3" fill="#ff8600"/><circle cx="98.65" cy="352.22" r="2.3" fill="#ff8600"/><circle cx="92.88" cy="354.19" r="2.3" fill="#ff8600"/><circle cx="116.81" cy="335.79" r="2.3" fill="#ff8600"/><circle cx="136.70" cy="318.49" r="2.3" fill="#ff8600"/><circle cx="109.12" cy="339.02" r="2.3" fill="#ff8600"/><circle cx="89.26" cy="356.35" r="2.3" fill="#ff8600"/><circle cx="137.88" cy="316.71" r="2.3" fill="#ff8200"/><circle cx="132.22" cy="321.39" r="2.3" fill="#ff8200"/><circle cx="131.61" cy="321.75" r="2.3" fill="#ff8200"/><circle cx="133.78" cy="320.82" r="2.3" fill="#ff7e00"/><circle cx="111.92" cy="338.57" r="2.3" fill="#ff7e00"/><circle cx="94.81" cy="351.87" r="2.3" fill="#ff7e00"/><circle cx="124.83" cy="327.07" r="2.3" fill="#ff7e00"/><circle cx="94.66" cy="355.38" r="2.3" fill="#ff7a00"/><circle cx="129.25" cy="324.13" r="2.3" fill="#ff7a00"/><circle cx="95.80" cy="354.05" r="2.3" fill="#ff7700"/><circle cx="126.12" cy="324.63" r="2.3" fill="#ff7700"/><circle cx="121.42" cy="333.33" r="2.3" fill="#ff7700"/><circle cx="143.19" cy="315.67" r="2.3" fill="#ff7700"/><circle cx="90.45" cy="356.99" r="2.3" fill="#ff7300"/><circle cx="93.74" cy="352.59" r="2.3" fill="#ff7300"/><circle cx="114.69" cy="337.28" r="2.3" fill="#ff7300"/><circle cx="104.56" cy="343.95" r="2.3" fill="#ff7300"/><circle cx="132.00" cy="322.10" r="2.3" fill="#ff6f00"/><circle cx="139.83" cy="315.09" r="2.3" fill="#ff6f00"/><circle cx="101.24" cy="348.64" r="2.3" fill="#ff6f00"/><circle cx="114.96" cy="338.01" r="2.3" fill="#ff6f00"/><circle cx="123.20" cy="330.07" r="2.3" fill="#ff6c00"/><circle cx="120.61" cy="335.55" r="2.3" fill="#ff6c00"/><circle cx="99.52" cy="349.11" r="2.3" fill="#ff6c00"/><circle cx="132.52" cy="322.07" r="2.3" fill="#ff6c00"/><circle cx="130.49" cy="321.68" r="2.3" fill="#ff6800"/><circle cx="93.67" cy="352.33" r="2.3" fill="#ff6800"/><circle cx="139.62" cy="314.81" r="2.3" fill="#ff6800"/><circle cx="107.32" cy="343.45" r="2.3" fill="#ff6800"/><circle cx="116.92" cy="335.35" r="2.3" fill="#ff6800"/><circle cx="107.67" cy="343.79" r="2.3" fill="#ff6800"/><circle cx="98.53" cy="351.68" r="2.3" fill="#ff6800"/><circle cx="127.82" cy="325.70" r="2.3" fill="#ff6800"/><circle cx="124.85" cy="329.84" r="2.3" fill="#ff6400"/><circle cx="125.84" cy="326.34" r="2.3" fill="#ff6400"/><circle cx="145.88" cy="311.25" r="2.3" fill="#ff6000"/><circle cx="126.10" cy="328.74" r="2.3" fill="#ff5d00"/><circle cx="125.57" cy="325.24" r="2.3" fill="#ff5d00"/><circle cx="115.15" cy="336.85" r="2.3" fill="#ff5d00"/><circle cx="96.35" cy="354.52" r="2.3" fill="#ff5900"/><circle cx="108.09" cy="345.32" r="2.3" fill="#ff5900"/><circle cx="123.34" cy="328.26" r="2.3" fill="#ff5500"/><circle cx="102.06" cy="348.17" r="2.3" fill="#ff5500"/><circle cx="124.49" cy="329.19" r="2.3" fill="#ff5500"/><circle cx="118.08" cy="334.28" r="2.3" fill="#ff5200"/><circle cx="109.27" cy="342.57" r="2.3" fill="#ff5200"/><circle cx="109.47" cy="344.20" r="2.3" fill="#ff5200"/><circle cx="127.20" cy="326.85" r="2.3" fill="#ff5200"/><circle cx="105.42" cy="345.86" r="2.3" fill="#ff5200"/><circle cx="95.31" cy="354.02" r="2.3" fill="#ff4e00"/><circle cx="148.40" cy="309.38" r="2.3" fill="#ff4e00"/><circle cx="109.11" cy="341.04" r="2.3" fill="#ff4e00"/><circle cx="112.83" cy="338.97" r="2.3" fill="#ff4a00"/><circle cx="124.46" cy="329.00" r="2.3" fill="#ff4a00"/><circle cx="108.79" cy="341.45" r="2.3" fill="#ff4a00"/><circle cx="118.08" cy="332.69" r="2.3" fill="#ff4a00"/><circle cx="126.37" cy="328.63" r="2.3" fill="#ff4700"/><circle cx="134.81" cy="319.24" r="2.3" fill="#ff4700"/><circle cx="121.51" cy="330.00" r="2.3" fill="#ff4300"/><circle cx="118.67" cy="331.49" r="2.3" fill="#ff3f00"/><circle cx="115.30" cy="337.76" r="2.3" fill="#ff3b00"/><circle cx="109.20" cy="342.19" r="2.3" fill="#ff3b00"/><circle cx="130.01" cy="325.45" r="2.3" fill="#ff3800"/><circle cx="102.99" cy="346.57" r="2.3" fill="#ff3400"/><circle cx="100.64" cy="347.39" r="2.3" fill="#ff3000"/><circle cx="115.78" cy="338.30" r="2.3" fill="#ff2d00"/><circle cx="101.92" cy="346.38" r="2.3" fill="#ff2d00"/><circle cx="99.83" cy="351.34" r="2.3" fill="#ff2d00"/><circle cx="134.83" cy="319.52" r="2.3" fill="#ff2900"/><circle cx="132.48" cy="322.13" r="2.3" fill="#ff2900"/><circle cx="119.74" cy="331.93" r="2.3" fill="#ff2900"/><circle cx="120.60" cy="330.98" r="2.3" fill="#ff1a00"/><circle cx="107.47" cy="342.50" r="2.3" fill="#ff1300"/><circle cx="115.18" cy="335.01" r="2.3" fill="#ff1300"/><circle cx="132.07" cy="322.03" r="2.3" fill="#ff1300"/><circle cx="127.19" cy="325.99" r="2.3" fill="#fa0f00"/><circle cx="91.67" cy="356.31" r="2.3" fill="#fa0f00"/><circle cx="97.01" cy="353.32" r="2.3" fill="#f60b00"/><circle cx="118.75" cy="333.64" r="2.3" fill="#f10800"/><circle cx="113.04" cy="339.91" r="2.3" fill="#e80000"/><circle cx="97.82" cy="353.33" r="2.3" fill="#e40000"/><circle cx="98.89" cy="348.72" r="2.3" fill="#df0000"/><circle cx="90.82" cy="358.10" r="2.3" fill="#cd0000"/><circle cx="106.06" cy="344.34" r="2.3" fill="#cd0000"/><circle cx="106.40" cy="343.67" r="2.3" fill="#bb0000"/><circle cx="103.14" cy="347.82" r="2.3" fill="#ad0000"/><circle cx="126.96" cy="325.07" r="2.3" fill="#800000"/>
</g>
<defs><clipPath id="clipax"><rect x="63" y="51.84" width="390.6" height="332.64"/></clipPath></defs>
<path d="M63.00 384.48V51.84 M63 384.48H453.6 M128.10 384.48V51.84 M63 329.04H453.6 M193.20 384.48V51.84 M63 273.60H453.6 M258.30 384.48V51.84 M63 218.16H453.6 M323.40 384.48V51.84 M63 162.72H453.6 M388.50 384.48V51.84 M63 107.28H453.6 M453.60 384.48V51.84 M63 51.84H453.6" fill="none" stroke="#b0b0b0" stroke-width="0.8"/>
<path d="M63.00 384.48V387.98 M63 384.48H59.5 M128.10 384.48V387.98 M63 329.04H59.5 M193.20 384.48V387.98 M63 273.60H59.5 M258.30 384.48V387.98 M63 218.16H59.5 M323.40 384.48V387.98 M63 162.72H59.5 M388.50 384.48V387.98 M63 107.28H59.5 M453.60 384.48V387.98 M63 51.84H59.5" fill="none" stroke="#000" stroke-width="0.8"/>
<g clip-path="url(#clipax)">
<path d="M63 381.87432L453.6 50.17" fill="none" stroke="#000" stroke-width="1.5" stroke-linecap="square"/>
<path d="M63 384.48L453.6 51.84" fill="none" stroke="#000" stroke-width="1.5" stroke-dasharray="5.55 2.4"/>
</g>
<rect x="63" y="51.84" width="390.6" height="332.64" fill="none" stroke="#000" stroke-width="0.8"/>
<g font-family="'Liberation Sans', sans-serif" fill="#000" style="-webkit-font-smoothing:antialiased;opacity:0.999">
<g transform="translate(59.875 399.078) scale(1.0 1)"><text><tspan x="0.122" y="0.000" font-size="11.000">0</tspan></text></g>
<g transform="translate(49.750 388.279) scale(1.0 1)"><text><tspan x="0.122" y="0.000" font-size="11.000">0</tspan></text></g>
<g transform="translate(121.787 399.078) scale(1.0 1)"><text><tspan x="0.122" y="0.000" font-size="11.000">1</tspan><tspan x="6.485" y="0.000" font-size="11.000">0</tspan></text></g>
<g transform="translate(43.375 332.839) scale(1.0 1)"><text><tspan x="0.122" y="0.000" font-size="11.000">1</tspan><tspan x="6.485" y="0.000" font-size="11.000">0</tspan></text></g>
<g transform="translate(186.887 399.078) scale(1.0 1)"><text><tspan x="0.122" y="0.000" font-size="11.000">2</tspan><tspan x="6.485" y="0.000" font-size="11.000">0</tspan></text></g>
<g transform="translate(43.375 277.399) scale(1.0 1)"><text><tspan x="0.122" y="0.000" font-size="11.000">2</tspan><tspan x="6.485" y="0.000" font-size="11.000">0</tspan></text></g>
<g transform="translate(252.050 399.078) scale(1.0 1)"><text><tspan x="0.122" y="0.000" font-size="11.000">3</tspan><tspan x="6.485" y="0.000" font-size="11.000">0</tspan></text></g>
<g transform="translate(43.500 221.959) scale(1.0 1)"><text><tspan x="0.122" y="0.000" font-size="11.000">3</tspan><tspan x="6.485" y="0.000" font-size="11.000">0</tspan></text></g>
<g transform="translate(317.150 399.078) scale(1.0 1)"><text><tspan x="0.122" y="0.000" font-size="11.000">4</tspan><tspan x="6.485" y="0.000" font-size="11.000">0</tspan></text></g>
<g transform="translate(43.500 166.519) scale(1.0 1)"><text><tspan x="0.122" y="0.000" font-size="11.000">4</tspan><tspan x="6.485" y="0.000" font-size="11.000">0</tspan></text></g>
<g transform="translate(382.188 399.078) scale(1.0 1)"><text><tspan x="0.122" y="0.000" font-size="11.000">5</tspan><tspan x="6.485" y="0.000" font-size="11.000">0</tspan></text></g>
<g transform="translate(43.375 111.079) scale(1.0 1)"><text><tspan x="0.122" y="0.000" font-size="11.000">5</tspan><tspan x="6.485" y="0.000" font-size="11.000">0</tspan></text></g>
<g transform="translate(447.287 399.078) scale(1.0 1)"><text><tspan x="0.122" y="0.000" font-size="11.000">6</tspan><tspan x="6.485" y="0.000" font-size="11.000">0</tspan></text></g>
<g transform="translate(43.375 55.639) scale(1.0 1)"><text><tspan x="0.122" y="0.000" font-size="11.000">6</tspan><tspan x="6.485" y="0.000" font-size="11.000">0</tspan></text></g>
<g transform="translate(230.200 415.008) scale(1.0 1)"><text><tspan x="0.115" y="0.000" font-size="11.000">g</tspan><tspan x="6.580" y="0.000" font-size="11.000">f</tspan><tspan x="9.743" y="0.000" font-size="11.000">z</tspan><tspan x="18.719" y="0.000" font-size="11.000">[</tspan><tspan x="22.343" y="0.000" font-size="11.000">k</tspan><tspan x="28.103" y="0.000" font-size="11.000">g</tspan><tspan x="34.492" y="0.000" font-size="11.000">/</tspan><tspan x="37.994" y="0.000" font-size="11.000">m</tspan><tspan x="52.692" y="0.000" font-size="11.000">]</tspan><tspan x="47.614" y="-3.828" font-size="7.700">2</tspan></text></g>
<g transform="translate(35.568 254.510) rotate(-90) scale(1.0 1)"><text><tspan x="-0.481" y="0.000" font-size="11.000">C</tspan><tspan x="6.640" y="0.000" font-size="11.000">O</tspan><tspan x="14.606" y="0.000" font-size="11.000">W</tspan><tspan x="24.493" y="0.000" font-size="11.000">A</tspan><tspan x="35.183" y="0.000" font-size="11.000">[</tspan><tspan x="38.808" y="0.000" font-size="11.000">k</tspan><tspan x="44.568" y="0.000" font-size="11.000">g</tspan><tspan x="50.957" y="0.000" font-size="11.000">/</tspan><tspan x="54.459" y="0.000" font-size="11.000">m</tspan><tspan x="69.156" y="0.000" font-size="11.000">]</tspan><tspan x="64.079" y="-3.828" font-size="7.700">2</tspan></text></g>
</g>
<path d="M 282.468 377.496 L 441.888 377.496 Q 444.888 377.496 444.888 374.496 L 444.888 298.740 Q 444.888 295.740 441.888 295.740 L 282.468 295.740 Q 279.468 295.740 279.468 298.740 L 279.468 374.496 Q 279.468 377.496 282.468 377.496 z" fill="#f5deb3" fill-opacity="0.5" stroke="#000" stroke-opacity="0.6" stroke-width="1"/>
<g font-family="'Liberation Sans', sans-serif" fill="#000" style="-webkit-font-smoothing:antialiased;opacity:0.999">
<g transform="translate(352.863 306.432) scale(1.0 1)"><text><tspan x="0.209" y="0.000" font-size="11.000">y</tspan><tspan x="10.074" y="0.000" font-size="11.000">=</tspan><tspan x="20.777" y="0.000" font-size="11.000">1</tspan><tspan x="27.078" y="0.000" font-size="11.000">.</tspan><tspan x="30.318" y="0.000" font-size="11.000">0</tspan><tspan x="36.680" y="0.000" font-size="11.000">0</tspan><tspan x="43.129" y="0.000" font-size="11.000">x</tspan><tspan x="52.994" y="0.000" font-size="11.000">+</tspan><tspan x="63.697" y="0.000" font-size="11.000">0</tspan><tspan x="69.998" y="0.000" font-size="11.000">.</tspan><tspan x="73.238" y="0.000" font-size="11.000">4</tspan><tspan x="79.600" y="0.000" font-size="11.000">7</tspan></text></g>
<g transform="translate(395.882 318.888) scale(1.0 1)"><text><tspan x="0.224" y="0.000" font-size="11.000">r</tspan><tspan x="13.090" y="0.000" font-size="11.000">=</tspan><tspan x="23.793" y="0.000" font-size="11.000">0</tspan><tspan x="30.094" y="0.000" font-size="11.000">.</tspan><tspan x="33.334" y="0.000" font-size="11.000">9</tspan><tspan x="39.696" y="0.000" font-size="11.000">8</tspan><tspan x="4.279" y="-3.828" font-size="7.700">2</tspan></text></g>
<g transform="translate(343.282 332.928) scale(1.0 1)"><text><tspan x="0.115" y="0.000" font-size="11.000">b</tspan><tspan x="6.515" y="0.000" font-size="11.000">i</tspan><tspan x="9.131" y="0.000" font-size="11.000">a</tspan><tspan x="15.109" y="0.000" font-size="11.000">s</tspan><tspan x="24.620" y="0.000" font-size="11.000">=</tspan><tspan x="35.323" y="0.000" font-size="11.000">0</tspan><tspan x="41.624" y="0.000" font-size="11.000">.</tspan><tspan x="44.864" y="0.000" font-size="11.000">4</tspan><tspan x="51.226" y="0.000" font-size="11.000">4</tspan><tspan x="61.067" y="0.000" font-size="11.000">[</tspan><tspan x="64.691" y="0.000" font-size="11.000">k</tspan><tspan x="70.452" y="0.000" font-size="11.000">g</tspan><tspan x="76.841" y="0.000" font-size="11.000">/</tspan><tspan x="80.343" y="0.000" font-size="11.000">m</tspan><tspan x="95.040" y="0.000" font-size="11.000">]</tspan><tspan x="89.962" y="-3.828" font-size="7.700">2</tspan></text></g>
<g transform="translate(282.882 347.688) scale(1.0 1)"><text><tspan x="0.224" y="0.000" font-size="11.000">r</tspan><tspan x="4.400" y="0.000" font-size="11.000">m</tspan><tspan x="13.708" y="0.000" font-size="11.000">s</tspan><tspan x="19.177" y="0.000" font-size="11.000">d</tspan><tspan x="29.566" y="0.000" font-size="11.000">=</tspan><tspan x="40.269" y="0.000" font-size="11.000">1</tspan><tspan x="46.570" y="0.000" font-size="11.000">.</tspan><tspan x="49.810" y="0.000" font-size="11.000">3</tspan><tspan x="59.348" y="0.000" font-size="11.000">(</tspan><tspan x="63.252" y="0.000" font-size="11.000">1</tspan><tspan x="69.553" y="0.000" font-size="11.000">.</tspan><tspan x="72.793" y="0.000" font-size="11.000">3</tspan><tspan x="79.152" y="0.000" font-size="11.000">)</tspan><tspan x="86.536" y="0.000" font-size="11.000">[</tspan><tspan x="90.160" y="0.000" font-size="11.000">k</tspan><tspan x="95.921" y="0.000" font-size="11.000">g</tspan><tspan x="102.310" y="0.000" font-size="11.000">/</tspan><tspan x="105.812" y="0.000" font-size="11.000">m</tspan><tspan x="120.509" y="0.000" font-size="11.000">]</tspan><tspan x="127.289" y="0.000" font-size="11.000">1</tspan><tspan x="133.651" y="0.000" font-size="11.000">2</tspan><tspan x="139.952" y="0.000" font-size="11.000">.</tspan><tspan x="143.192" y="0.000" font-size="11.000">1</tspan><tspan x="149.293" y="0.000" font-size="11.000">%</tspan><tspan x="115.431" y="-3.828" font-size="7.700">2</tspan></text></g>
<g transform="translate(365.051 360.540) scale(1.0 1)"><text><tspan x="0.110" y="0.000" font-size="11.000">n</tspan><tspan x="9.726" y="0.000" font-size="11.000">v</tspan><tspan x="15.440" y="0.000" font-size="11.000">a</tspan><tspan x="21.730" y="0.000" font-size="11.000">l</tspan><tspan x="24.508" y="0.000" font-size="11.000">i</tspan><tspan x="27.234" y="0.000" font-size="11.000">d</tspan><tspan x="37.623" y="0.000" font-size="11.000">=</tspan><tspan x="48.325" y="0.000" font-size="11.000">2</tspan><tspan x="54.688" y="0.000" font-size="11.000">2</tspan><tspan x="61.050" y="0.000" font-size="11.000">9</tspan><tspan x="67.412" y="0.000" font-size="11.000">1</tspan></text></g>
<g transform="translate(329.935 371.988) scale(1.0 1)"><text><tspan x="0.110" y="0.000" font-size="11.000">n</tspan><tspan x="9.806" y="0.000" font-size="11.000">m</tspan><tspan x="19.263" y="0.000" font-size="11.000">a</tspan><tspan x="25.818" y="0.000" font-size="11.000">t</tspan><tspan x="29.306" y="0.000" font-size="11.000">c</tspan><tspan x="34.915" y="0.000" font-size="11.000">h</tspan><tspan x="41.253" y="0.000" font-size="11.000">u</tspan><tspan x="47.595" y="0.000" font-size="11.000">p</tspan><tspan x="53.683" y="0.000" font-size="11.000">s</tspan><tspan x="63.194" y="0.000" font-size="11.000">=</tspan><tspan x="73.897" y="0.000" font-size="11.000">5</tspan><tspan x="80.259" y="0.000" font-size="11.000">4</tspan><tspan x="86.621" y="0.000" font-size="11.000">1</tspan><tspan x="92.984" y="0.000" font-size="11.000">0</tspan><tspan x="99.346" y="0.000" font-size="11.000">9</tspan><tspan x="105.708" y="0.000" font-size="11.000">8</tspan></text></g>
</g>
</svg></body></html>
